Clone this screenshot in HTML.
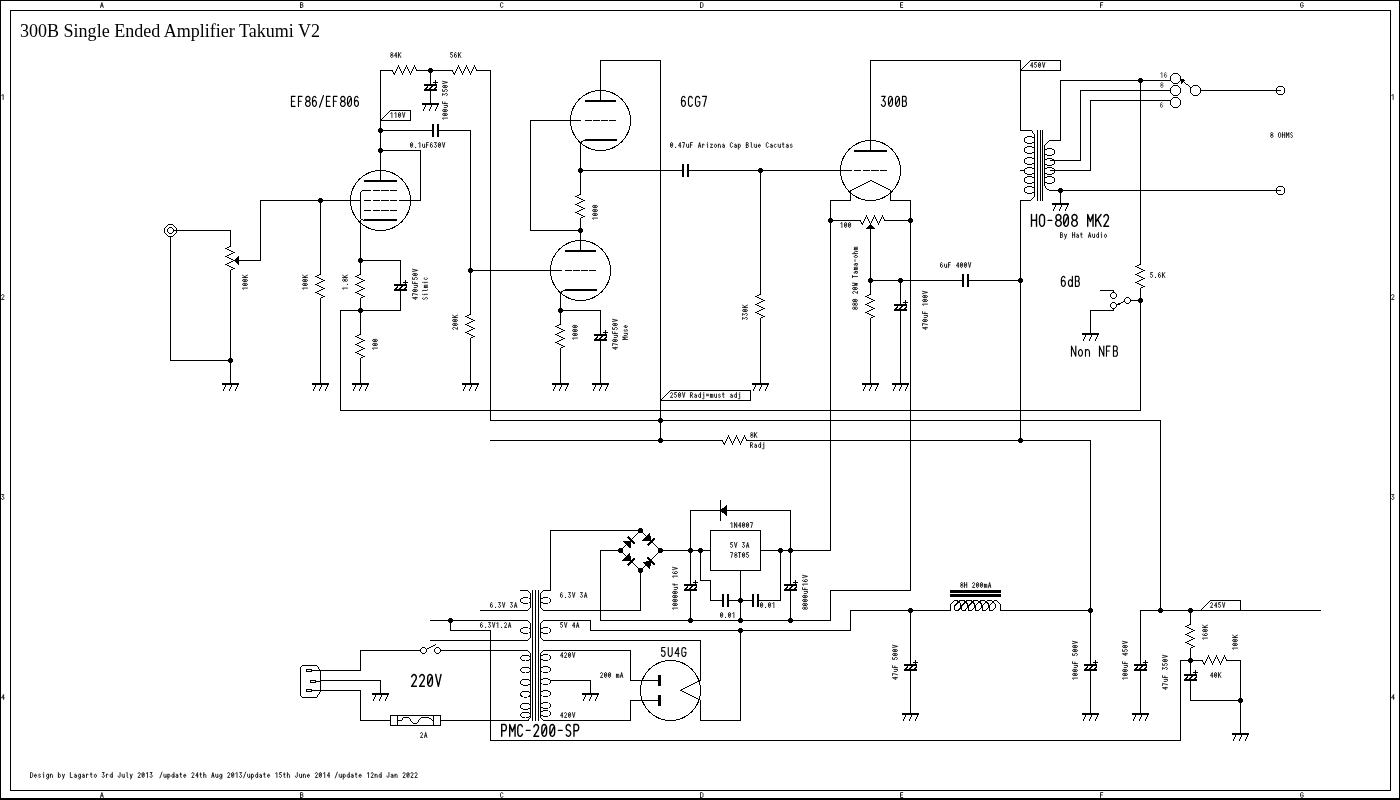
<!DOCTYPE html>
<html><head><meta charset="utf-8"><title>300B Single Ended Amplifier Takumi V2</title>
<style>
html,body{margin:0;padding:0;background:#fff;}
body{width:1400px;height:800px;overflow:hidden;font-family:"Liberation Mono",monospace;}
svg{display:block;}
svg *{vector-effect:none;}
.g{fill:none;stroke:#000;stroke-linecap:butt;stroke-linejoin:miter;}
.g *{shape-rendering:crispEdges;}
.t{fill:#000;stroke:none;font-family:"Liberation Serif",serif;white-space:pre;}
.v{fill:none;stroke:#000;stroke-linecap:round;stroke-linejoin:round;}
</style></head><body>
<svg width="1400" height="800" viewBox="0 0 1400 800">
<defs><filter id="gs" x="0" y="0" width="1" height="1" color-interpolation-filters="sRGB"><feOffset dx="0" dy="0"/></filter></defs>
<rect x="0" y="0" width="1400" height="800" fill="#fff"/>
<g class="g">
<rect x="0.5" y="0.25" width="1398.75" height="798.75" stroke-width="1.5"/>
<rect x="10.5" y="10.5" width="1380" height="780" stroke-width="1"/>
<polyline points="173.25,230.5 230.5,230.5 230.5,246.75" stroke-width="1"/>
<polyline points="230.5,270.25 230.5,383.75" stroke-width="1"/>
<rect x="222" y="383" width="17" height="2" fill="#000" stroke="none"/>
<polyline points="170.5,236.25 170.5,360.5 230.75,360.5" stroke-width="1"/>
<circle cx="230.5" cy="360.5" r="2.6" fill="#000" stroke="none"/>
<polygon points="234,260.5 238.9,256 238.9,265" fill="#000" stroke="none"/>
<polyline points="239.25,260.5 260.5,260.5 260.5,200.5 360.75,200.5" stroke-width="1"/>
<circle cx="320.5" cy="200.5" r="2.6" fill="#000" stroke="none"/>
<polyline points="320.5,200.25 320.5,274.75" stroke-width="1"/>
<polyline points="320.5,298.25 320.5,383.75" stroke-width="1"/>
<rect x="312" y="383" width="17" height="2" fill="#000" stroke="none"/>
<circle cx="380.5" cy="200.5" r="30" stroke-width="1"/>
<rect x="364" y="180" width="33" height="2" fill="#000" stroke="none"/>
<rect x="364" y="219" width="33" height="2" fill="#000" stroke="none"/>
<line x1="364" y1="190.5" x2="397" y2="190.5" stroke-width="1" stroke-dasharray="7.3 1.4"/>
<line x1="364" y1="200.5" x2="397" y2="200.5" stroke-width="1" stroke-dasharray="7.3 1.4"/>
<line x1="364" y1="210.5" x2="397" y2="210.5" stroke-width="1" stroke-dasharray="7.3 1.4"/>
<polyline points="364.75,190.5 362.25,190.5" stroke-width="1"/>
<polyline points="360.5,192.25 360.5,218.75" stroke-width="1"/>
<polyline points="360.5,220.25 360.5,223.75" stroke-width="1"/>
<polyline points="399.25,200.5 420.5,200.5 420.5,150.5 380.25,150.5" stroke-width="1"/>
<polyline points="380.5,180.75 380.5,70.5 392.75,70.5" stroke-width="1"/>
<circle cx="380.5" cy="130.5" r="2.6" fill="#000" stroke="none"/>
<circle cx="380.5" cy="150.5" r="2.6" fill="#000" stroke="none"/>
<polyline points="416.25,70.5 452.75,70.5" stroke-width="1"/>
<circle cx="430.5" cy="70.5" r="2.6" fill="#000" stroke="none"/>
<polyline points="476.25,70.5 490.5,70.5 490.5,420.5 1160.5,420.5 1160.5,610.75" stroke-width="1"/>
<polyline points="430.5,70.25 430.5,85.75" stroke-width="1"/>
<rect x="424" y="84" width="13" height="2" fill="#000" stroke="none"/>
<rect x="424" y="89" width="13" height="2" fill="#000" stroke="none"/>
<line x1="425.2" y1="89.3" x2="428.1" y2="85.8" stroke-width="1.4"/>
<line x1="429.7" y1="89.3" x2="432.6" y2="85.8" stroke-width="1.4"/>
<line x1="434.2" y1="89.3" x2="437.1" y2="85.8" stroke-width="1.4"/>
<line x1="433" y1="82.3" x2="438" y2="82.3" stroke-width="1"/>
<line x1="435.5" y1="80" x2="435.5" y2="84.5" stroke-width="1"/>
<polyline points="430.5,90.25 430.5,103.75" stroke-width="1"/>
<rect x="422" y="103" width="17" height="2" fill="#000" stroke="none"/>
<polyline points="390,110.5 410.5,110.5 410.5,120.5 380.5,120.5" stroke-width="1"/>
<polyline points="380.25,130.5 432.75,130.5" stroke-width="1"/>
<rect x="432" y="124" width="2" height="13" fill="#000" stroke="none"/>
<rect x="437" y="124" width="2" height="13" fill="#000" stroke="none"/>
<polyline points="438.25,130.5 470.5,130.5 470.5,314.75" stroke-width="1"/>
<polyline points="470.5,338.25 470.5,383.75" stroke-width="1"/>
<rect x="462" y="383" width="17" height="2" fill="#000" stroke="none"/>
<circle cx="470.5" cy="270.5" r="2.6" fill="#000" stroke="none"/>
<polyline points="470.25,270.5 561.75,270.5" stroke-width="1"/>
<polyline points="360.5,222.25 360.5,274.75" stroke-width="1"/>
<circle cx="360.5" cy="260.5" r="2.6" fill="#000" stroke="none"/>
<polyline points="360.5,298.25 360.5,334.75" stroke-width="1"/>
<circle cx="360.5" cy="310.5" r="2.6" fill="#000" stroke="none"/>
<polyline points="360.5,358.25 360.5,383.75" stroke-width="1"/>
<rect x="352" y="383" width="17" height="2" fill="#000" stroke="none"/>
<polyline points="360.25,260.5 400.5,260.5 400.5,285.75" stroke-width="1"/>
<rect x="394" y="284" width="13" height="2" fill="#000" stroke="none"/>
<rect x="394" y="289" width="13" height="2" fill="#000" stroke="none"/>
<line x1="395.2" y1="289.3" x2="398.1" y2="285.8" stroke-width="1.4"/>
<line x1="399.7" y1="289.3" x2="402.6" y2="285.8" stroke-width="1.4"/>
<line x1="404.2" y1="289.3" x2="407.1" y2="285.8" stroke-width="1.4"/>
<line x1="403" y1="282.3" x2="408" y2="282.3" stroke-width="1"/>
<line x1="405.5" y1="280" x2="405.5" y2="284.5" stroke-width="1"/>
<polyline points="400.5,290.25 400.5,310.5 340.5,310.5 340.5,410.5 1140.5,410.5 1140.5,288.25" stroke-width="1"/>
<circle cx="600.5" cy="120.5" r="30" stroke-width="1"/>
<rect x="585" y="100" width="31" height="2" fill="#000" stroke="none"/>
<rect x="585" y="139" width="32" height="2" fill="#000" stroke="none"/>
<line x1="585" y1="120.5" x2="616" y2="120.5" stroke-width="1" stroke-dasharray="6.6 1.5"/>
<path d="M585.5,140 Q581,140.5 580.5,145" stroke-width="1"/>
<polyline points="600.5,100.75 600.5,60.5 660.5,60.5 660.5,440.75" stroke-width="1"/>
<polyline points="580.75,120.5 530.5,120.5 530.5,230.5 580.75,230.5" stroke-width="1"/>
<circle cx="580.5" cy="230.5" r="2.6" fill="#000" stroke="none"/>
<polyline points="580.5,145.25 580.5,194.75" stroke-width="1"/>
<circle cx="580.5" cy="170.5" r="2.6" fill="#000" stroke="none"/>
<polyline points="580.5,218.25 580.5,250.75" stroke-width="1"/>
<circle cx="580.5" cy="270.5" r="30" stroke-width="1"/>
<rect x="565" y="250" width="31" height="2" fill="#000" stroke="none"/>
<rect x="565" y="289" width="32" height="2" fill="#000" stroke="none"/>
<line x1="565" y1="270.5" x2="596" y2="270.5" stroke-width="1" stroke-dasharray="6.6 1.5"/>
<path d="M565.5,290 Q561,290.5 560.5,295" stroke-width="1"/>
<polyline points="560.5,295.25 560.5,324.75" stroke-width="1"/>
<circle cx="560.5" cy="310.5" r="2.6" fill="#000" stroke="none"/>
<polyline points="560.5,348.25 560.5,383.75" stroke-width="1"/>
<rect x="552" y="383" width="17" height="2" fill="#000" stroke="none"/>
<polyline points="560.25,310.5 600.5,310.5 600.5,335.75" stroke-width="1"/>
<rect x="594" y="334" width="13" height="2" fill="#000" stroke="none"/>
<rect x="594" y="339" width="13" height="2" fill="#000" stroke="none"/>
<line x1="595.2" y1="339.3" x2="598.1" y2="335.8" stroke-width="1.4"/>
<line x1="599.7" y1="339.3" x2="602.6" y2="335.8" stroke-width="1.4"/>
<line x1="604.2" y1="339.3" x2="607.1" y2="335.8" stroke-width="1.4"/>
<line x1="603" y1="332.3" x2="608" y2="332.3" stroke-width="1"/>
<line x1="605.5" y1="330" x2="605.5" y2="334.5" stroke-width="1"/>
<polyline points="600.5,340.25 600.5,383.75" stroke-width="1"/>
<rect x="592" y="383" width="17" height="2" fill="#000" stroke="none"/>
<polyline points="580.25,170.5 682.75,170.5" stroke-width="1"/>
<rect x="682" y="164" width="2" height="13" fill="#000" stroke="none"/>
<rect x="687" y="164" width="2" height="13" fill="#000" stroke="none"/>
<polyline points="688.25,170.5 851.75,170.5" stroke-width="1"/>
<circle cx="760.5" cy="170.5" r="2.6" fill="#000" stroke="none"/>
<polyline points="760.5,170.25 760.5,294.75" stroke-width="1"/>
<polyline points="760.5,318.25 760.5,383.75" stroke-width="1"/>
<rect x="752" y="383" width="17" height="2" fill="#000" stroke="none"/>
<circle cx="870.5" cy="170.5" r="30" stroke-width="1"/>
<rect x="854" y="150" width="33" height="2" fill="#000" stroke="none"/>
<line x1="854" y1="170.5" x2="887" y2="170.5" stroke-width="1" stroke-dasharray="7.3 1.4"/>
<polyline points="870.5,150.75 870.5,60.5 1020.5,60.5 1020.5,130.75" stroke-width="1"/>
<polyline points="1030,60.5 1060.5,60.5 1060.5,70.5 1020.5,70.5" stroke-width="1"/>
<polyline points="850.75,200.5 830.5,200.5 830.5,550.75" stroke-width="1"/>
<polyline points="890.25,200.5 910.5,200.5 910.5,590.5 830.5,590.5 830.5,620.75" stroke-width="1"/>
<circle cx="830.5" cy="220.5" r="2.6" fill="#000" stroke="none"/>
<circle cx="910.5" cy="220.5" r="2.6" fill="#000" stroke="none"/>
<polyline points="830.25,220.5 860.75,220.5" stroke-width="1"/>
<polyline points="884.25,220.5 910.75,220.5" stroke-width="1"/>
<polygon points="870.5,223.8 866,229 875,229" fill="#000" stroke="none"/>
<polyline points="870.5,228.25 870.5,294.75" stroke-width="1"/>
<circle cx="870.5" cy="280.5" r="2.6" fill="#000" stroke="none"/>
<polyline points="870.5,318.25 870.5,383.75" stroke-width="1"/>
<rect x="862" y="383" width="17" height="2" fill="#000" stroke="none"/>
<polyline points="870.25,280.5 962.75,280.5" stroke-width="1"/>
<circle cx="900.5" cy="280.5" r="2.6" fill="#000" stroke="none"/>
<rect x="962" y="274" width="2" height="13" fill="#000" stroke="none"/>
<rect x="967" y="274" width="2" height="13" fill="#000" stroke="none"/>
<polyline points="968.25,280.5 1020.75,280.5" stroke-width="1"/>
<circle cx="1020.5" cy="280.5" r="2.6" fill="#000" stroke="none"/>
<polyline points="900.5,280.25 900.5,305.75" stroke-width="1"/>
<rect x="894" y="304" width="13" height="2" fill="#000" stroke="none"/>
<rect x="894" y="309" width="13" height="2" fill="#000" stroke="none"/>
<line x1="895.2" y1="309.3" x2="898.1" y2="305.8" stroke-width="1.4"/>
<line x1="899.7" y1="309.3" x2="902.6" y2="305.8" stroke-width="1.4"/>
<line x1="904.2" y1="309.3" x2="907.1" y2="305.8" stroke-width="1.4"/>
<line x1="903" y1="302.3" x2="908" y2="302.3" stroke-width="1"/>
<line x1="905.5" y1="300" x2="905.5" y2="304.5" stroke-width="1"/>
<polyline points="900.5,310.25 900.5,383.75" stroke-width="1"/>
<rect x="892" y="383" width="17" height="2" fill="#000" stroke="none"/>
<polyline points="1020.25,130.5 1031.75,130.5" stroke-width="1"/>
<polyline points="1034.5,134.25 1034.5,196.75" stroke-width="1"/>
<polyline points="1030.75,200.5 1020.5,200.5 1020.5,440.75" stroke-width="1"/>
<ellipse cx="1029.5" cy="140" rx="5" ry="3.5" stroke-width="1"/>
<ellipse cx="1029.5" cy="150" rx="5" ry="3.5" stroke-width="1"/>
<ellipse cx="1029.5" cy="161" rx="5" ry="3.5" stroke-width="1"/>
<ellipse cx="1029.5" cy="171" rx="5" ry="3.5" stroke-width="1"/>
<ellipse cx="1029.5" cy="180" rx="5" ry="3.5" stroke-width="1"/>
<ellipse cx="1029.5" cy="190" rx="5" ry="3.5" stroke-width="1"/>
<polyline points="1020.25,170.5 1024.75,170.5" stroke-width="1"/>
<line x1="1037.5" y1="130" x2="1037.5" y2="201" stroke-width="1"/>
<line x1="1040.5" y1="130" x2="1040.5" y2="201" stroke-width="1"/>
<line x1="1042.5" y1="130" x2="1042.5" y2="201" stroke-width="1"/>
<polyline points="1060.5,80.25 1060.5,140.5 1049.25,140.5" stroke-width="1"/>
<polyline points="1044.5,145.25 1044.5,185.75" stroke-width="1"/>
<polyline points="1049.25,190.5 1060.75,190.5" stroke-width="1"/>
<ellipse cx="1049.5" cy="152" rx="5" ry="3.5" stroke-width="1"/>
<ellipse cx="1049.5" cy="162" rx="5" ry="3.5" stroke-width="1"/>
<ellipse cx="1049.5" cy="171" rx="5" ry="3.5" stroke-width="1"/>
<ellipse cx="1049.5" cy="180" rx="5" ry="3.5" stroke-width="1"/>
<polyline points="1060.25,80.5 1170.75,80.5" stroke-width="1"/>
<circle cx="1140.5" cy="80.5" r="2.6" fill="#000" stroke="none"/>
<polyline points="1050.25,160.5 1080.5,160.5 1080.5,90.5 1170.75,90.5" stroke-width="1"/>
<polyline points="1050.25,170.5 1090.5,170.5 1090.5,100.5 1170.75,100.5" stroke-width="1"/>
<polyline points="1060.25,190.5 1280.75,190.5" stroke-width="1"/>
<circle cx="1060.5" cy="190.5" r="2.6" fill="#000" stroke="none"/>
<polyline points="1060.5,190.25 1060.5,203.75" stroke-width="1"/>
<rect x="1052" y="203" width="17" height="2" fill="#000" stroke="none"/>
<polyline points="1200.25,90.5 1280.75,90.5" stroke-width="1"/>
<polyline points="1140.5,80.25 1140.5,264.75" stroke-width="1"/>
<circle cx="1140.5" cy="300.5" r="2.6" fill="#000" stroke="none"/>
<polyline points="1130.25,300.5 1140.75,300.5" stroke-width="1"/>
<polyline points="1100.25,290.5 1113.5,290.5 1113.5,292.75" stroke-width="1"/>
<polyline points="1113.5,308.25 1113.5,310.5 1090.5,310.5 1090.5,333.75" stroke-width="1"/>
<rect x="1082" y="333" width="17" height="2" fill="#000" stroke="none"/>
<circle cx="660.5" cy="420.5" r="2.6" fill="#000" stroke="none"/>
<circle cx="660.5" cy="440.5" r="2.6" fill="#000" stroke="none"/>
<polyline points="490.25,440.5 722.75,440.5" stroke-width="1"/>
<polyline points="746.25,440.5 1090.5,440.5 1090.5,610.75" stroke-width="1"/>
<circle cx="1020.5" cy="440.5" r="2.6" fill="#000" stroke="none"/>
<polyline points="670,390.5 750.5,390.5 750.5,400.5 660.5,400.5" stroke-width="1"/>
<polyline points="302.25,665.5 316.75,665.5" stroke-width="1"/>
<polyline points="320.5,670.25 320.5,691.75" stroke-width="1"/>
<polyline points="316.75,697.5 302.25,697.5" stroke-width="1"/>
<polyline points="300.5,695.75 300.5,667.25" stroke-width="1"/>
<rect x="306.5" y="669.5" width="5" height="2" stroke-width="1"/>
<rect x="310.5" y="680.5" width="5" height="2" stroke-width="1"/>
<rect x="306.5" y="689.5" width="5" height="2" stroke-width="1"/>
<polyline points="312.25,670.5 320.75,670.5" stroke-width="1"/>
<polyline points="312.25,690.5 320.75,690.5" stroke-width="1"/>
<polyline points="316.25,681.5 320.75,681.5" stroke-width="1"/>
<polyline points="320.25,670.5 360.5,670.5 360.5,650.5 420.75,650.5" stroke-width="1"/>
<polyline points="440.25,650.5 527.75,650.5" stroke-width="1"/>
<polyline points="320.25,680.5 380.5,680.5 380.5,693.75" stroke-width="1"/>
<rect x="372" y="693" width="17" height="2" fill="#000" stroke="none"/>
<polyline points="320.25,690.5 360.5,690.5 360.5,720.5 390.75,720.5" stroke-width="1"/>
<rect x="390.5" y="715.5" width="50" height="10" stroke-width="1"/>
<line x1="397.5" y1="715.5" x2="397.5" y2="725.5" stroke-width="1"/>
<line x1="433.5" y1="715.5" x2="433.5" y2="725.5" stroke-width="1"/>
<polyline points="440.25,720.5 528.75,720.5" stroke-width="1"/>
<line x1="532.5" y1="590" x2="532.5" y2="721" stroke-width="1"/>
<line x1="535.5" y1="590" x2="535.5" y2="721" stroke-width="1"/>
<line x1="538.5" y1="590" x2="538.5" y2="721" stroke-width="1"/>
<polyline points="520.25,590.5 527.75,590.5" stroke-width="1"/>
<polyline points="530.5,593.25 530.5,607.75" stroke-width="1"/>
<polyline points="527.75,610.5 480.25,610.5" stroke-width="1"/>
<ellipse cx="525.5" cy="600.5" rx="5" ry="3" stroke-width="1"/>
<polyline points="430.25,620.5 527.75,620.5" stroke-width="1"/>
<polyline points="530.5,623.25 530.5,637.75" stroke-width="1"/>
<polyline points="527.75,640.5 430.25,640.5" stroke-width="1"/>
<ellipse cx="525.5" cy="630.5" rx="5" ry="3" stroke-width="1"/>
<polyline points="527.5,650.5 527.5,650.5" stroke-width="1"/>
<polyline points="530.5,653.25 530.5,717.75" stroke-width="1"/>
<polyline points="527.5,720.5 527.5,720.5" stroke-width="1"/>
<ellipse cx="525.5" cy="658" rx="5" ry="3" stroke-width="1"/>
<ellipse cx="525.5" cy="670" rx="5" ry="3" stroke-width="1"/>
<ellipse cx="525.5" cy="682.3" rx="5" ry="3" stroke-width="1"/>
<ellipse cx="525.5" cy="694.2" rx="5" ry="3" stroke-width="1"/>
<ellipse cx="525.5" cy="706.3" rx="5" ry="3" stroke-width="1"/>
<ellipse cx="525.5" cy="715" rx="5" ry="3" stroke-width="1"/>
<polyline points="550.75,590.5 543.25,590.5" stroke-width="1"/>
<polyline points="540.5,593.25 540.5,607.75" stroke-width="1"/>
<polyline points="543.25,610.5 640.75,610.5" stroke-width="1"/>
<ellipse cx="545.5" cy="600.5" rx="5" ry="3" stroke-width="1"/>
<polyline points="590.75,620.5 543.25,620.5" stroke-width="1"/>
<polyline points="540.5,623.25 540.5,637.75" stroke-width="1"/>
<polyline points="543.25,640.5 700.75,640.5" stroke-width="1"/>
<ellipse cx="545.5" cy="630.5" rx="5" ry="3" stroke-width="1"/>
<polyline points="630.75,650.5 543.25,650.5" stroke-width="1"/>
<polyline points="540.5,653.25 540.5,717.75" stroke-width="1"/>
<polyline points="543.25,720.5 630.75,720.5" stroke-width="1"/>
<ellipse cx="545.5" cy="657.5" rx="5" ry="3" stroke-width="1"/>
<ellipse cx="545.5" cy="669.6" rx="5" ry="3" stroke-width="1"/>
<ellipse cx="545.5" cy="681.6" rx="5" ry="3" stroke-width="1"/>
<ellipse cx="545.5" cy="693.6" rx="5" ry="3" stroke-width="1"/>
<ellipse cx="545.5" cy="705.5" rx="5" ry="3" stroke-width="1"/>
<ellipse cx="545.5" cy="713.5" rx="5" ry="3" stroke-width="1"/>
<circle cx="450.5" cy="620.5" r="2.6" fill="#000" stroke="none"/>
<polyline points="450.5,620.25 450.5,630.5 490.5,630.5 490.5,740.5 1180.5,740.5 1180.5,660.5 1190.75,660.5" stroke-width="1"/>
<polyline points="550.25,680.5 590.5,680.5 590.5,693.75" stroke-width="1"/>
<rect x="582" y="693" width="17" height="2" fill="#000" stroke="none"/>
<polyline points="550.5,590.75 550.5,530.5 640.75,530.5" stroke-width="1"/>
<polyline points="640.5,610.75 640.5,570.25" stroke-width="1"/>
<polyline points="590.5,620.25 590.5,630.5 850.5,630.5 850.5,610.5 950.75,610.5" stroke-width="1"/>
<polyline points="700.5,640.25 700.5,680.75" stroke-width="1"/>
<polyline points="630.5,650.25 630.5,680.5 659.75,680.5" stroke-width="1"/>
<polyline points="630.5,720.75 630.5,700.5 659.75,700.5" stroke-width="1"/>
<circle cx="670.5" cy="690.5" r="30" stroke-width="1"/>
<rect x="658" y="675" width="3" height="11" fill="#000" stroke="none"/>
<rect x="658" y="695" width="3" height="11" fill="#000" stroke="none"/>
<polyline points="700.5,700.25 700.5,720.5 740.5,720.5 740.5,630.25" stroke-width="1"/>
<polyline points="740.5,620.75 740.5,570.25" stroke-width="1"/>
<circle cx="740.5" cy="630.5" r="2.6" fill="#000" stroke="none"/>
<circle cx="740.5" cy="620.5" r="2.6" fill="#000" stroke="none"/>
<circle cx="740.5" cy="600.5" r="2.6" fill="#000" stroke="none"/>
<circle cx="640.5" cy="530.5" r="2.6" fill="#000" stroke="none"/>
<circle cx="620.5" cy="550.5" r="2.6" fill="#000" stroke="none"/>
<circle cx="660.5" cy="550.5" r="2.6" fill="#000" stroke="none"/>
<circle cx="640.5" cy="570.5" r="2.6" fill="#000" stroke="none"/>
<line x1="627.86" y1="536.86" x2="634.94" y2="543.94" stroke-width="2.2"/>
<polygon points="631.4,540.4 622.63,541.39 630.41,549.17" fill="#000" stroke="none"/>
<line x1="654.64" y1="538.06" x2="647.56" y2="545.14" stroke-width="2.2"/>
<polygon points="651.1,541.6 650.11,532.83 642.33,540.61" fill="#000" stroke="none"/>
<line x1="634.64" y1="558.06" x2="627.56" y2="565.14" stroke-width="2.2"/>
<polygon points="631.1,561.6 630.11,552.83 622.33,560.61" fill="#000" stroke="none"/>
<line x1="647.56" y1="557.36" x2="654.64" y2="564.44" stroke-width="2.2"/>
<polygon points="651.1,560.9 642.33,561.89 650.11,569.67" fill="#000" stroke="none"/>
<polyline points="620.75,550.5 600.5,550.5 600.5,620.5 830.75,620.5" stroke-width="1"/>
<polyline points="660.25,550.5 710.75,550.5" stroke-width="1"/>
<circle cx="690.5" cy="550.5" r="2.6" fill="#000" stroke="none"/>
<circle cx="700.5" cy="550.5" r="2.6" fill="#000" stroke="none"/>
<rect x="710.5" y="530.5" width="50" height="40" stroke-width="1"/>
<polyline points="760.25,550.5 830.75,550.5" stroke-width="1"/>
<circle cx="780.5" cy="550.5" r="2.6" fill="#000" stroke="none"/>
<circle cx="790.5" cy="550.5" r="2.6" fill="#000" stroke="none"/>
<polyline points="690.5,550.75 690.5,510.5 790.5,510.5 790.5,550.75" stroke-width="1"/>
<line x1="720.5" y1="500" x2="720.5" y2="521" stroke-width="1"/>
<polygon points="720.3,510.5 726.5,504.8 726.5,516.2" fill="#000" stroke="none"/>
<polyline points="690.5,550.25 690.5,585.75" stroke-width="1"/>
<rect x="684" y="584" width="13" height="2" fill="#000" stroke="none"/>
<rect x="684" y="589" width="13" height="2" fill="#000" stroke="none"/>
<line x1="685.2" y1="589.3" x2="688.1" y2="585.8" stroke-width="1.4"/>
<line x1="689.7" y1="589.3" x2="692.6" y2="585.8" stroke-width="1.4"/>
<line x1="694.2" y1="589.3" x2="697.1" y2="585.8" stroke-width="1.4"/>
<line x1="693" y1="582.3" x2="698" y2="582.3" stroke-width="1"/>
<line x1="695.5" y1="580" x2="695.5" y2="584.5" stroke-width="1"/>
<polyline points="690.5,590.25 690.5,620.75" stroke-width="1"/>
<circle cx="690.5" cy="620.5" r="2.6" fill="#000" stroke="none"/>
<polyline points="790.5,550.25 790.5,585.75" stroke-width="1"/>
<rect x="784" y="584" width="13" height="2" fill="#000" stroke="none"/>
<rect x="784" y="589" width="13" height="2" fill="#000" stroke="none"/>
<line x1="785.2" y1="589.3" x2="788.1" y2="585.8" stroke-width="1.4"/>
<line x1="789.7" y1="589.3" x2="792.6" y2="585.8" stroke-width="1.4"/>
<line x1="794.2" y1="589.3" x2="797.1" y2="585.8" stroke-width="1.4"/>
<line x1="793" y1="582.3" x2="798" y2="582.3" stroke-width="1"/>
<line x1="795.5" y1="580" x2="795.5" y2="584.5" stroke-width="1"/>
<polyline points="790.5,590.25 790.5,620.75" stroke-width="1"/>
<circle cx="790.5" cy="620.5" r="2.6" fill="#000" stroke="none"/>
<polyline points="700.5,550.25 700.5,580.5 710.5,580.5 710.5,600.5 722.75,600.5" stroke-width="1"/>
<rect x="722" y="594" width="2" height="13" fill="#000" stroke="none"/>
<rect x="727" y="594" width="2" height="13" fill="#000" stroke="none"/>
<polyline points="728.25,600.5 752.75,600.5" stroke-width="1"/>
<rect x="752" y="594" width="2" height="13" fill="#000" stroke="none"/>
<rect x="757" y="594" width="2" height="13" fill="#000" stroke="none"/>
<polyline points="758.25,600.5 780.5,600.5 780.5,550.25" stroke-width="1"/>
<circle cx="910.5" cy="610.5" r="2.6" fill="#000" stroke="none"/>
<rect x="950" y="590" width="51" height="3" fill="#000" stroke="none"/>
<rect x="950" y="594" width="51" height="3" fill="#000" stroke="none"/>
<polyline points="950.5,610.5 950.5,604.5 954.5,600.5 954.5,600.5 957,600.5 960.8,604 960.8,607.5 958,610.5 955.3,610.5 954.5,609.3 954.5,606 960.2,600.5 961.4,600.5 963.9,600.5 967.7,604 967.7,607.5 964.9,610.5 962.2,610.5 961.4,609.3 961.4,606 967.1,600.5 968.3,600.5 970.8,600.5 974.6,604 974.6,607.5 971.8,610.5 969.1,610.5 968.3,609.3 968.3,606 974,600.5 975.2,600.5 977.7,600.5 981.5,604 981.5,607.5 978.7,610.5 976,610.5 975.2,609.3 975.2,606 980.9,600.5 982.1,600.5 984.6,600.5 988.4,604 988.4,607.5 985.6,610.5 982.9,610.5 982.1,609.3 982.1,606 987.8,600.5 989,600.5 991.5,600.5 995.3,604 995.3,607.5 992.5,610.5 989.8,610.5 989,609.3 989,606 994.7,600.5 996.5,600.5 1000.5,604.5 1000.5,610.5" stroke-width="1" stroke-linejoin="round"/>
<polyline points="1000.25,610.5 1090.75,610.5" stroke-width="1"/>
<circle cx="1090.5" cy="610.5" r="2.6" fill="#000" stroke="none"/>
<polyline points="910.5,610.25 910.5,665.75" stroke-width="1"/>
<rect x="904" y="664" width="13" height="2" fill="#000" stroke="none"/>
<rect x="904" y="669" width="13" height="2" fill="#000" stroke="none"/>
<line x1="905.2" y1="669.3" x2="908.1" y2="665.8" stroke-width="1.4"/>
<line x1="909.7" y1="669.3" x2="912.6" y2="665.8" stroke-width="1.4"/>
<line x1="914.2" y1="669.3" x2="917.1" y2="665.8" stroke-width="1.4"/>
<line x1="913" y1="662.3" x2="918" y2="662.3" stroke-width="1"/>
<line x1="915.5" y1="660" x2="915.5" y2="664.5" stroke-width="1"/>
<polyline points="910.5,670.25 910.5,713.75" stroke-width="1"/>
<rect x="902" y="713" width="17" height="2" fill="#000" stroke="none"/>
<polyline points="1090.5,610.25 1090.5,665.75" stroke-width="1"/>
<rect x="1084" y="664" width="13" height="2" fill="#000" stroke="none"/>
<rect x="1084" y="669" width="13" height="2" fill="#000" stroke="none"/>
<line x1="1085.2" y1="669.3" x2="1088.1" y2="665.8" stroke-width="1.4"/>
<line x1="1089.7" y1="669.3" x2="1092.6" y2="665.8" stroke-width="1.4"/>
<line x1="1094.2" y1="669.3" x2="1097.1" y2="665.8" stroke-width="1.4"/>
<line x1="1093" y1="662.3" x2="1098" y2="662.3" stroke-width="1"/>
<line x1="1095.5" y1="660" x2="1095.5" y2="664.5" stroke-width="1"/>
<polyline points="1090.5,670.25 1090.5,713.75" stroke-width="1"/>
<rect x="1082" y="713" width="17" height="2" fill="#000" stroke="none"/>
<polyline points="1140.5,665.75 1140.5,610.5 1320.75,610.5" stroke-width="1"/>
<rect x="1134" y="664" width="13" height="2" fill="#000" stroke="none"/>
<rect x="1134" y="669" width="13" height="2" fill="#000" stroke="none"/>
<line x1="1135.2" y1="669.3" x2="1138.1" y2="665.8" stroke-width="1.4"/>
<line x1="1139.7" y1="669.3" x2="1142.6" y2="665.8" stroke-width="1.4"/>
<line x1="1144.2" y1="669.3" x2="1147.1" y2="665.8" stroke-width="1.4"/>
<line x1="1143" y1="662.3" x2="1148" y2="662.3" stroke-width="1"/>
<line x1="1145.5" y1="660" x2="1145.5" y2="664.5" stroke-width="1"/>
<polyline points="1140.5,670.25 1140.5,713.75" stroke-width="1"/>
<rect x="1132" y="713" width="17" height="2" fill="#000" stroke="none"/>
<circle cx="1160.5" cy="610.5" r="2.6" fill="#000" stroke="none"/>
<circle cx="1190.5" cy="610.5" r="2.6" fill="#000" stroke="none"/>
<polyline points="1210,600.5 1240.5,600.5 1240.5,610.5 1200.5,610.5" stroke-width="1"/>
<polyline points="1190.5,610.25 1190.5,624.75" stroke-width="1"/>
<polyline points="1190.5,648.25 1190.5,675.75" stroke-width="1"/>
<circle cx="1190.5" cy="660.5" r="2.6" fill="#000" stroke="none"/>
<rect x="1184" y="674" width="13" height="2" fill="#000" stroke="none"/>
<rect x="1184" y="679" width="13" height="2" fill="#000" stroke="none"/>
<line x1="1185.2" y1="679.3" x2="1188.1" y2="675.8" stroke-width="1.4"/>
<line x1="1189.7" y1="679.3" x2="1192.6" y2="675.8" stroke-width="1.4"/>
<line x1="1194.2" y1="679.3" x2="1197.1" y2="675.8" stroke-width="1.4"/>
<line x1="1193" y1="672.3" x2="1198" y2="672.3" stroke-width="1"/>
<line x1="1195.5" y1="670" x2="1195.5" y2="674.5" stroke-width="1"/>
<polyline points="1190.5,680.25 1190.5,700.5 1240.75,700.5" stroke-width="1"/>
<polyline points="1190.25,660.5 1202.75,660.5" stroke-width="1"/>
<polyline points="1226.25,660.5 1240.5,660.5 1240.5,733.75" stroke-width="1"/>
<circle cx="1240.5" cy="700.5" r="2.6" fill="#000" stroke="none"/>
<rect x="1232" y="733" width="17" height="2" fill="#000" stroke="none"/>
<path d="M164,228h1v5h-1zM165,227h1v1h-1zM165,233h1v1h-1zM166,226h1v1h-1zM166,234h1v1h-1zM167,225h1v1h-1zM167,229h1v3h-1zM167,235h1v1h-1zM168,228h1v1h-1zM168,232h1v1h-1zM168,224h5v1h-5zM168,236h5v1h-5zM169,227h3v1h-3zM169,233h3v1h-3zM172,228h1v1h-1zM172,232h1v1h-1zM173,225h1v1h-1zM173,229h1v3h-1zM173,235h1v1h-1zM174,226h1v1h-1zM174,234h1v1h-1zM175,227h1v1h-1zM175,233h1v1h-1zM176,228h1v5h-1zM223,389h1v2h-1zM224,387h1v2h-1zM225,385h1v2h-1zM225,248h2v1h-2zM225,256h2v1h-2zM225,264h2v1h-2zM227,247h2v1h-2zM227,249h2v1h-2zM227,255h2v1h-2zM227,257h2v1h-2zM227,263h2v1h-2zM227,265h2v1h-2zM229,389h1v2h-1zM229,246h2v1h-2zM229,250h2v1h-2zM229,254h2v1h-2zM229,258h2v1h-2zM229,262h2v1h-2zM229,266h2v1h-2zM230,270h1v1h-1zM230,387h1v2h-1zM231,385h1v2h-1zM231,251h2v1h-2zM231,253h2v1h-2zM231,259h2v1h-2zM231,261h2v1h-2zM231,267h2v1h-2zM231,269h2v1h-2zM233,252h2v1h-2zM233,260h2v1h-2zM233,268h2v1h-2zM235,389h1v2h-1zM236,387h1v2h-1zM237,385h1v2h-1zM300,667h1v1h-1zM300,695h1v1h-1zM301,666h1v1h-1zM301,696h1v1h-1zM302,665h1v1h-1zM302,697h1v1h-1zM313,389h1v2h-1zM314,387h1v2h-1zM315,385h1v2h-1zM315,276h2v1h-2zM315,284h2v1h-2zM315,292h2v1h-2zM316,665h1v1h-1zM316,697h1v1h-1zM317,666h1v1h-1zM317,695h1v2h-1zM317,275h2v1h-2zM317,277h2v1h-2zM317,283h2v1h-2zM317,285h2v1h-2zM317,291h2v1h-2zM317,293h2v1h-2zM318,667h1v2h-1zM318,694h1v1h-1zM319,389h1v2h-1zM319,669h1v1h-1zM319,692h1v2h-1zM319,274h2v1h-2zM319,278h2v1h-2zM319,282h2v1h-2zM319,286h2v1h-2zM319,290h2v1h-2zM319,294h2v1h-2zM320,298h1v1h-1zM320,387h1v2h-1zM320,670h1v1h-1zM320,691h1v1h-1zM321,385h1v2h-1zM321,279h2v1h-2zM321,281h2v1h-2zM321,287h2v1h-2zM321,289h2v1h-2zM321,295h2v1h-2zM321,297h2v1h-2zM323,280h2v1h-2zM323,288h2v1h-2zM323,296h2v1h-2zM325,389h1v2h-1zM326,387h1v2h-1zM327,385h1v2h-1zM353,389h1v2h-1zM354,387h1v2h-1zM355,385h1v2h-1zM355,276h2v1h-2zM355,284h2v1h-2zM355,292h2v1h-2zM355,336h2v1h-2zM355,344h2v1h-2zM355,352h2v1h-2zM357,275h2v1h-2zM357,277h2v1h-2zM357,283h2v1h-2zM357,285h2v1h-2zM357,291h2v1h-2zM357,293h2v1h-2zM357,335h2v1h-2zM357,337h2v1h-2zM357,343h2v1h-2zM357,345h2v1h-2zM357,351h2v1h-2zM357,353h2v1h-2zM359,389h1v2h-1zM359,274h2v1h-2zM359,278h2v1h-2zM359,282h2v1h-2zM359,286h2v1h-2zM359,290h2v1h-2zM359,294h2v1h-2zM359,334h2v1h-2zM359,338h2v1h-2zM359,342h2v1h-2zM359,346h2v1h-2zM359,350h2v1h-2zM359,354h2v1h-2zM360,192h1v1h-1zM360,218h1v1h-1zM360,298h1v1h-1zM360,358h1v1h-1zM360,387h1v2h-1zM361,191h1v1h-1zM361,385h1v2h-1zM361,219h2v1h-2zM361,279h2v1h-2zM361,281h2v1h-2zM361,287h2v1h-2zM361,289h2v1h-2zM361,295h2v1h-2zM361,297h2v1h-2zM361,339h2v1h-2zM361,341h2v1h-2zM361,347h2v1h-2zM361,349h2v1h-2zM361,355h2v1h-2zM361,357h2v1h-2zM362,190h1v1h-1zM363,220h1v1h-1zM363,280h2v1h-2zM363,288h2v1h-2zM363,296h2v1h-2zM363,340h2v1h-2zM363,348h2v1h-2zM363,356h2v1h-2zM365,389h1v2h-1zM366,387h1v2h-1zM367,385h1v2h-1zM373,699h1v2h-1zM374,697h1v2h-1zM375,695h1v2h-1zM379,699h1v2h-1zM380,120h1v1h-1zM380,697h1v2h-1zM381,119h1v1h-1zM381,695h1v2h-1zM382,118h1v1h-1zM383,117h1v1h-1zM384,116h1v1h-1zM385,115h1v1h-1zM385,699h1v2h-1zM386,114h1v1h-1zM386,697h1v2h-1zM387,113h1v1h-1zM387,695h1v2h-1zM388,112h1v1h-1zM389,111h1v1h-1zM390,110h1v1h-1zM392,70h1v2h-1zM393,72h1v1h-1zM393,73h2v1h-2zM394,74h1v1h-1zM395,71h1v2h-1zM396,69h1v2h-1zM397,67h1v2h-1zM397,720h5v1h-5zM398,65h1v2h-1zM399,67h1v2h-1zM400,69h1v2h-1zM401,71h1v2h-1zM402,73h1v2h-1zM402,718h1v2h-1zM403,71h1v2h-1zM403,717h6v1h-6zM404,69h1v2h-1zM405,67h1v2h-1zM406,65h1v2h-1zM407,67h1v2h-1zM408,69h1v2h-1zM409,71h1v2h-1zM409,718h1v1h-1zM410,73h1v2h-1zM410,719h1v2h-1zM411,71h1v2h-1zM411,721h1v1h-1zM412,69h1v2h-1zM412,722h1v1h-1zM413,67h1v2h-1zM413,723h4v1h-4zM414,65h1v2h-1zM415,67h1v2h-1zM416,69h1v2h-1zM417,722h1v1h-1zM418,720h1v2h-1zM419,719h1v1h-1zM420,649h1v3h-1zM420,718h1v1h-1zM421,648h1v1h-1zM421,652h1v1h-1zM421,717h8v1h-8zM422,647h3v1h-3zM422,653h3v1h-3zM423,109h1v2h-1zM424,107h1v2h-1zM425,105h1v2h-1zM425,648h1v1h-1zM425,652h1v1h-1zM426,649h1v3h-1zM427,648h2v1h-2zM429,109h1v2h-1zM429,647h2v1h-2zM429,718h2v1h-2zM430,107h1v2h-1zM431,105h1v2h-1zM431,719h1v1h-1zM431,646h2v1h-2zM432,720h2v1h-2zM433,645h2v1h-2zM434,649h1v3h-1zM435,109h1v2h-1zM435,644h1v1h-1zM435,648h1v1h-1zM435,652h1v1h-1zM436,107h1v2h-1zM436,647h3v1h-3zM436,653h3v1h-3zM437,105h1v2h-1zM439,648h1v1h-1zM439,652h1v1h-1zM440,649h1v3h-1zM452,70h1v2h-1zM453,72h1v1h-1zM453,73h2v1h-2zM454,74h1v1h-1zM455,71h1v2h-1zM456,69h1v2h-1zM457,67h1v2h-1zM458,65h1v2h-1zM459,67h1v2h-1zM460,69h1v2h-1zM461,71h1v2h-1zM462,73h1v2h-1zM463,71h1v2h-1zM463,389h1v2h-1zM464,69h1v2h-1zM464,387h1v2h-1zM465,67h1v2h-1zM465,385h1v2h-1zM465,316h2v1h-2zM465,324h2v1h-2zM465,332h2v1h-2zM466,65h1v2h-1zM467,67h1v2h-1zM467,315h2v1h-2zM467,317h2v1h-2zM467,323h2v1h-2zM467,325h2v1h-2zM467,331h2v1h-2zM467,333h2v1h-2zM468,69h1v2h-1zM469,71h1v2h-1zM469,389h1v2h-1zM469,314h2v1h-2zM469,318h2v1h-2zM469,322h2v1h-2zM469,326h2v1h-2zM469,330h2v1h-2zM469,334h2v1h-2zM470,73h1v2h-1zM470,338h1v1h-1zM470,387h1v2h-1zM471,71h1v2h-1zM471,385h1v2h-1zM471,319h2v1h-2zM471,321h2v1h-2zM471,327h2v1h-2zM471,329h2v1h-2zM471,335h2v1h-2zM471,337h2v1h-2zM472,69h1v2h-1zM473,67h1v2h-1zM473,320h2v1h-2zM473,328h2v1h-2zM473,336h2v1h-2zM474,65h1v2h-1zM475,67h1v2h-1zM475,389h1v2h-1zM476,69h1v2h-1zM476,387h1v2h-1zM477,385h1v2h-1zM527,590h1v1h-1zM527,610h1v1h-1zM527,620h1v1h-1zM527,640h1v1h-1zM527,650h1v1h-1zM527,720h1v1h-1zM528,591h1v1h-1zM528,609h1v1h-1zM528,621h1v1h-1zM528,639h1v1h-1zM528,651h1v1h-1zM528,719h1v1h-1zM529,592h1v1h-1zM529,608h1v1h-1zM529,622h1v1h-1zM529,638h1v1h-1zM529,652h1v1h-1zM529,718h1v1h-1zM530,593h1v1h-1zM530,607h1v1h-1zM530,623h1v1h-1zM530,637h1v1h-1zM530,653h1v1h-1zM530,717h1v1h-1zM540,593h1v1h-1zM540,607h1v1h-1zM540,623h1v1h-1zM540,637h1v1h-1zM540,653h1v1h-1zM540,717h1v1h-1zM541,592h1v1h-1zM541,608h1v1h-1zM541,622h1v1h-1zM541,638h1v1h-1zM541,652h1v1h-1zM541,718h1v1h-1zM542,591h1v1h-1zM542,609h1v1h-1zM542,621h1v1h-1zM542,639h1v1h-1zM542,651h1v1h-1zM542,719h1v1h-1zM543,590h1v1h-1zM543,610h1v1h-1zM543,620h1v1h-1zM543,640h1v1h-1zM543,650h1v1h-1zM543,720h1v1h-1zM553,389h1v2h-1zM554,387h1v2h-1zM555,385h1v2h-1zM555,326h2v1h-2zM555,334h2v1h-2zM555,342h2v1h-2zM557,325h2v1h-2zM557,327h2v1h-2zM557,333h2v1h-2zM557,335h2v1h-2zM557,341h2v1h-2zM557,343h2v1h-2zM559,389h1v2h-1zM559,324h2v1h-2zM559,328h2v1h-2zM559,332h2v1h-2zM559,336h2v1h-2zM559,340h2v1h-2zM559,344h2v1h-2zM560,348h1v1h-1zM560,387h1v2h-1zM561,385h1v2h-1zM561,329h2v1h-2zM561,331h2v1h-2zM561,337h2v1h-2zM561,339h2v1h-2zM561,345h2v1h-2zM561,347h2v1h-2zM563,330h2v1h-2zM563,338h2v1h-2zM563,346h2v1h-2zM565,389h1v2h-1zM566,387h1v2h-1zM567,385h1v2h-1zM575,196h2v1h-2zM575,204h2v1h-2zM575,212h2v1h-2zM577,195h2v1h-2zM577,197h2v1h-2zM577,203h2v1h-2zM577,205h2v1h-2zM577,211h2v1h-2zM577,213h2v1h-2zM579,194h2v1h-2zM579,198h2v1h-2zM579,202h2v1h-2zM579,206h2v1h-2zM579,210h2v1h-2zM579,214h2v1h-2zM580,218h1v1h-1zM581,199h2v1h-2zM581,201h2v1h-2zM581,207h2v1h-2zM581,209h2v1h-2zM581,215h2v1h-2zM581,217h2v1h-2zM583,699h1v2h-1zM583,200h2v1h-2zM583,208h2v1h-2zM583,216h2v1h-2zM584,697h1v2h-1zM585,695h1v2h-1zM589,699h1v2h-1zM590,697h1v2h-1zM591,695h1v2h-1zM593,389h1v2h-1zM594,387h1v2h-1zM595,385h1v2h-1zM595,699h1v2h-1zM596,697h1v2h-1zM597,695h1v2h-1zM599,389h1v2h-1zM600,387h1v2h-1zM601,385h1v2h-1zM605,389h1v2h-1zM606,387h1v2h-1zM607,385h1v2h-1zM620,550h1v1h-1zM621,549h1v1h-1zM621,551h1v1h-1zM622,548h1v1h-1zM622,552h1v1h-1zM623,547h1v1h-1zM623,553h1v1h-1zM624,546h1v1h-1zM624,554h1v1h-1zM625,545h1v1h-1zM625,555h1v1h-1zM626,544h1v1h-1zM626,556h1v1h-1zM627,543h1v1h-1zM627,557h1v1h-1zM628,542h1v1h-1zM628,558h1v1h-1zM629,541h1v1h-1zM629,559h1v1h-1zM630,540h1v1h-1zM630,560h1v1h-1zM631,539h1v1h-1zM631,561h1v1h-1zM632,538h1v1h-1zM632,562h1v1h-1zM633,537h1v1h-1zM633,563h1v1h-1zM634,536h1v1h-1zM634,564h1v1h-1zM635,535h1v1h-1zM635,565h1v1h-1zM636,534h1v1h-1zM636,566h1v1h-1zM637,533h1v1h-1zM637,567h1v1h-1zM638,532h1v1h-1zM638,568h1v1h-1zM639,531h1v1h-1zM639,569h1v1h-1zM640,530h1v1h-1zM640,570h1v1h-1zM641,531h1v1h-1zM641,569h1v1h-1zM642,532h1v1h-1zM642,568h1v1h-1zM643,533h1v1h-1zM643,567h1v1h-1zM644,534h1v1h-1zM644,566h1v1h-1zM645,535h1v1h-1zM645,565h1v1h-1zM646,536h1v1h-1zM646,564h1v1h-1zM647,537h1v1h-1zM647,563h1v1h-1zM648,538h1v1h-1zM648,562h1v1h-1zM649,539h1v1h-1zM649,561h1v1h-1zM650,540h1v1h-1zM650,560h1v1h-1zM651,541h1v1h-1zM651,559h1v1h-1zM652,542h1v1h-1zM652,558h1v1h-1zM653,543h1v1h-1zM653,557h1v1h-1zM654,544h1v1h-1zM654,556h1v1h-1zM655,545h1v1h-1zM655,555h1v1h-1zM656,546h1v1h-1zM656,554h1v1h-1zM657,547h1v1h-1zM657,553h1v1h-1zM658,548h1v1h-1zM658,552h1v1h-1zM659,549h1v1h-1zM659,551h1v1h-1zM660,400h1v1h-1zM660,550h1v1h-1zM661,399h1v1h-1zM662,398h1v1h-1zM663,397h1v1h-1zM664,396h1v1h-1zM665,395h1v1h-1zM666,394h1v1h-1zM667,393h1v1h-1zM668,392h1v1h-1zM669,391h1v1h-1zM670,390h1v1h-1zM680,690h2v1h-2zM681,689h2v1h-2zM682,691h2v1h-2zM683,688h2v1h-2zM684,692h2v1h-2zM685,687h2v1h-2zM686,693h2v1h-2zM687,686h2v1h-2zM688,694h2v1h-2zM689,685h2v1h-2zM690,695h2v1h-2zM691,684h2v1h-2zM692,696h2v1h-2zM693,683h2v1h-2zM694,697h2v1h-2zM695,682h2v1h-2zM696,698h2v1h-2zM697,681h2v1h-2zM698,699h2v1h-2zM699,680h2v1h-2zM700,700h1v1h-1zM722,440h1v2h-1zM723,442h1v1h-1zM723,443h2v1h-2zM724,444h1v1h-1zM725,441h1v2h-1zM726,439h1v2h-1zM727,437h1v2h-1zM728,435h1v2h-1zM729,437h1v2h-1zM730,439h1v2h-1zM731,441h1v2h-1zM732,443h1v2h-1zM733,441h1v2h-1zM734,439h1v2h-1zM735,437h1v2h-1zM736,435h1v2h-1zM737,437h1v2h-1zM738,439h1v2h-1zM739,441h1v2h-1zM740,443h1v2h-1zM741,441h1v2h-1zM742,439h1v2h-1zM743,437h1v2h-1zM744,435h1v2h-1zM745,437h1v2h-1zM746,439h1v2h-1zM753,389h1v2h-1zM754,387h1v2h-1zM755,385h1v2h-1zM755,296h2v1h-2zM755,304h2v1h-2zM755,312h2v1h-2zM757,295h2v1h-2zM757,297h2v1h-2zM757,303h2v1h-2zM757,305h2v1h-2zM757,311h2v1h-2zM757,313h2v1h-2zM759,389h1v2h-1zM759,294h2v1h-2zM759,298h2v1h-2zM759,302h2v1h-2zM759,306h2v1h-2zM759,310h2v1h-2zM759,314h2v1h-2zM760,318h1v1h-1zM760,387h1v2h-1zM761,385h1v2h-1zM761,299h2v1h-2zM761,301h2v1h-2zM761,307h2v1h-2zM761,309h2v1h-2zM761,315h2v1h-2zM761,317h2v1h-2zM763,300h2v1h-2zM763,308h2v1h-2zM763,316h2v1h-2zM765,389h1v2h-1zM766,387h1v2h-1zM767,385h1v2h-1zM850,191h1v10h-1zM850,190h2v1h-2zM852,189h2v1h-2zM854,188h2v1h-2zM856,187h2v1h-2zM858,186h2v1h-2zM860,220h1v2h-1zM860,185h2v1h-2zM861,222h1v1h-1zM861,223h2v1h-2zM862,224h1v1h-1zM862,184h2v1h-2zM863,221h1v2h-1zM863,389h1v2h-1zM864,219h1v2h-1zM864,387h1v2h-1zM864,183h2v1h-2zM865,217h1v2h-1zM865,385h1v2h-1zM865,296h2v1h-2zM865,304h2v1h-2zM865,312h2v1h-2zM866,215h1v2h-1zM866,182h2v1h-2zM867,217h1v2h-1zM867,295h2v1h-2zM867,297h2v1h-2zM867,303h2v1h-2zM867,305h2v1h-2zM867,311h2v1h-2zM867,313h2v1h-2zM868,219h1v2h-1zM868,181h2v1h-2zM869,221h1v2h-1zM869,389h1v2h-1zM869,294h2v1h-2zM869,298h2v1h-2zM869,302h2v1h-2zM869,306h2v1h-2zM869,310h2v1h-2zM869,314h2v1h-2zM870,223h1v2h-1zM870,318h1v1h-1zM870,387h1v2h-1zM870,180h2v1h-2zM871,221h1v2h-1zM871,385h1v2h-1zM871,299h2v1h-2zM871,301h2v1h-2zM871,307h2v1h-2zM871,309h2v1h-2zM871,315h2v1h-2zM871,317h2v1h-2zM872,219h1v2h-1zM872,181h2v1h-2zM873,217h1v2h-1zM873,300h2v1h-2zM873,308h2v1h-2zM873,316h2v1h-2zM874,215h1v2h-1zM874,182h2v1h-2zM875,217h1v2h-1zM875,389h1v2h-1zM876,219h1v2h-1zM876,387h1v2h-1zM876,183h2v1h-2zM877,221h1v2h-1zM877,385h1v2h-1zM878,223h1v2h-1zM878,184h2v1h-2zM879,221h1v2h-1zM880,219h1v2h-1zM880,185h2v1h-2zM881,217h1v2h-1zM882,215h1v2h-1zM882,186h2v1h-2zM883,217h1v2h-1zM884,219h1v2h-1zM884,187h2v1h-2zM886,188h2v1h-2zM888,189h2v1h-2zM890,190h1v11h-1zM893,389h1v2h-1zM894,387h1v2h-1zM895,385h1v2h-1zM899,389h1v2h-1zM900,387h1v2h-1zM901,385h1v2h-1zM903,719h1v2h-1zM904,717h1v2h-1zM905,389h1v2h-1zM905,715h1v2h-1zM906,387h1v2h-1zM907,385h1v2h-1zM909,719h1v2h-1zM910,717h1v2h-1zM911,715h1v2h-1zM915,719h1v2h-1zM916,717h1v2h-1zM917,715h1v2h-1zM1020,70h1v1h-1zM1021,69h1v1h-1zM1022,68h1v1h-1zM1023,67h1v1h-1zM1024,66h1v1h-1zM1025,65h1v1h-1zM1026,64h1v1h-1zM1027,63h1v1h-1zM1028,62h1v1h-1zM1029,61h1v1h-1zM1030,60h1v1h-1zM1030,200h1v1h-1zM1031,130h1v1h-1zM1031,199h1v1h-1zM1032,131h1v2h-1zM1032,198h1v1h-1zM1033,133h1v1h-1zM1033,197h1v1h-1zM1034,134h1v1h-1zM1034,196h1v1h-1zM1044,145h1v1h-1zM1044,185h1v1h-1zM1045,144h1v1h-1zM1045,186h1v2h-1zM1046,143h1v1h-1zM1046,188h1v1h-1zM1047,142h1v1h-1zM1047,189h2v1h-2zM1048,141h1v1h-1zM1049,140h1v1h-1zM1049,190h1v1h-1zM1053,209h1v2h-1zM1054,207h1v2h-1zM1055,205h1v2h-1zM1059,209h1v2h-1zM1060,207h1v2h-1zM1061,205h1v2h-1zM1065,209h1v2h-1zM1066,207h1v2h-1zM1067,205h1v2h-1zM1083,339h1v2h-1zM1083,719h1v2h-1zM1084,337h1v2h-1zM1084,717h1v2h-1zM1085,335h1v2h-1zM1085,715h1v2h-1zM1089,339h1v2h-1zM1089,719h1v2h-1zM1090,337h1v2h-1zM1090,717h1v2h-1zM1091,335h1v2h-1zM1091,715h1v2h-1zM1095,339h1v2h-1zM1095,719h1v2h-1zM1096,337h1v2h-1zM1096,717h1v2h-1zM1097,335h1v2h-1zM1097,715h1v2h-1zM1110,294h1v3h-1zM1110,304h1v3h-1zM1111,293h1v1h-1zM1111,297h1v1h-1zM1111,303h1v1h-1zM1111,307h1v1h-1zM1112,292h3v1h-3zM1112,298h3v1h-3zM1112,302h3v1h-3zM1112,308h3v1h-3zM1115,293h1v1h-1zM1115,297h1v1h-1zM1115,303h1v1h-1zM1115,307h1v1h-1zM1116,294h1v3h-1zM1116,305h1v2h-1zM1116,304h4v1h-4zM1118,303h3v1h-3zM1121,302h2v1h-2zM1123,301h2v1h-2zM1124,299h1v2h-1zM1125,298h1v1h-1zM1125,302h1v1h-1zM1126,297h3v1h-3zM1126,303h3v1h-3zM1129,298h1v1h-1zM1129,302h1v1h-1zM1130,299h1v3h-1zM1133,719h1v2h-1zM1134,717h1v2h-1zM1135,715h1v2h-1zM1135,266h2v1h-2zM1135,274h2v1h-2zM1135,282h2v1h-2zM1137,265h2v1h-2zM1137,267h2v1h-2zM1137,273h2v1h-2zM1137,275h2v1h-2zM1137,281h2v1h-2zM1137,283h2v1h-2zM1139,719h1v2h-1zM1139,264h2v1h-2zM1139,268h2v1h-2zM1139,272h2v1h-2zM1139,276h2v1h-2zM1139,280h2v1h-2zM1139,284h2v1h-2zM1140,288h1v1h-1zM1140,717h1v2h-1zM1141,715h1v2h-1zM1141,269h2v1h-2zM1141,271h2v1h-2zM1141,277h2v1h-2zM1141,279h2v1h-2zM1141,285h2v1h-2zM1141,287h2v1h-2zM1143,270h2v1h-2zM1143,278h2v1h-2zM1143,286h2v1h-2zM1145,719h1v2h-1zM1146,717h1v2h-1zM1147,715h1v2h-1zM1170,76h1v5h-1zM1170,88h1v5h-1zM1170,100h1v5h-1zM1171,75h1v1h-1zM1171,81h1v1h-1zM1171,87h1v1h-1zM1171,93h1v1h-1zM1171,99h1v1h-1zM1171,105h1v1h-1zM1172,74h1v1h-1zM1172,82h1v1h-1zM1172,86h1v1h-1zM1172,94h1v1h-1zM1172,98h1v1h-1zM1172,106h1v1h-1zM1173,73h5v1h-5zM1173,83h5v1h-5zM1173,85h5v1h-5zM1173,95h5v1h-5zM1173,97h5v1h-5zM1173,107h5v1h-5zM1178,74h1v1h-1zM1178,82h1v1h-1zM1178,86h1v1h-1zM1178,94h1v1h-1zM1178,98h1v1h-1zM1178,106h1v1h-1zM1179,75h1v1h-1zM1179,81h1v1h-1zM1179,87h1v1h-1zM1179,93h1v1h-1zM1179,99h1v1h-1zM1179,105h1v1h-1zM1180,76h1v3h-1zM1180,88h1v5h-1zM1180,100h1v5h-1zM1180,79h4v1h-4zM1180,80h5v1h-5zM1181,83h1v1h-1zM1181,82h2v1h-2zM1181,81h3v1h-3zM1184,82h1v1h-1zM1185,83h1v1h-1zM1185,626h2v1h-2zM1185,634h2v1h-2zM1185,642h2v1h-2zM1186,84h2v1h-2zM1187,625h2v1h-2zM1187,627h2v1h-2zM1187,633h2v1h-2zM1187,635h2v1h-2zM1187,641h2v1h-2zM1187,643h2v1h-2zM1188,85h1v1h-1zM1189,86h1v1h-1zM1189,624h2v1h-2zM1189,628h2v1h-2zM1189,632h2v1h-2zM1189,636h2v1h-2zM1189,640h2v1h-2zM1189,644h2v1h-2zM1190,88h1v5h-1zM1190,648h1v1h-1zM1190,87h2v1h-2zM1191,93h1v1h-1zM1191,629h2v1h-2zM1191,631h2v1h-2zM1191,637h2v1h-2zM1191,639h2v1h-2zM1191,645h2v1h-2zM1191,647h2v1h-2zM1192,86h1v1h-1zM1192,94h1v1h-1zM1193,630h2v1h-2zM1193,638h2v1h-2zM1193,646h2v1h-2zM1193,85h5v1h-5zM1193,95h5v1h-5zM1198,86h1v1h-1zM1198,94h1v1h-1zM1199,87h1v1h-1zM1199,93h1v1h-1zM1200,88h1v5h-1zM1200,610h1v1h-1zM1201,609h1v1h-1zM1202,608h1v1h-1zM1202,660h1v2h-1zM1203,607h1v1h-1zM1203,662h1v1h-1zM1203,663h2v1h-2zM1204,606h1v1h-1zM1204,664h1v1h-1zM1205,605h1v1h-1zM1205,661h1v2h-1zM1206,604h1v1h-1zM1206,659h1v2h-1zM1207,603h1v1h-1zM1207,657h1v2h-1zM1208,602h1v1h-1zM1208,655h1v2h-1zM1209,601h1v1h-1zM1209,657h1v2h-1zM1210,600h1v1h-1zM1210,659h1v2h-1zM1211,661h1v2h-1zM1212,663h1v2h-1zM1213,661h1v2h-1zM1214,659h1v2h-1zM1215,657h1v2h-1zM1216,655h1v2h-1zM1217,657h1v2h-1zM1218,659h1v2h-1zM1219,661h1v2h-1zM1220,663h1v2h-1zM1221,661h1v2h-1zM1222,659h1v2h-1zM1223,657h1v2h-1zM1224,655h1v2h-1zM1225,657h1v2h-1zM1226,659h1v2h-1zM1233,739h1v2h-1zM1234,737h1v2h-1zM1235,735h1v2h-1zM1239,739h1v2h-1zM1240,737h1v2h-1zM1241,735h1v2h-1zM1245,739h1v2h-1zM1246,737h1v2h-1zM1247,735h1v2h-1zM1276,88h1v5h-1zM1276,188h1v5h-1zM1277,87h1v1h-1zM1277,93h1v1h-1zM1277,187h1v1h-1zM1277,193h1v1h-1zM1278,86h5v1h-5zM1278,94h5v1h-5zM1278,186h5v1h-5zM1278,194h5v1h-5zM1283,87h1v1h-1zM1283,93h1v1h-1zM1283,187h1v1h-1zM1283,193h1v1h-1zM1284,88h1v5h-1zM1284,188h1v5h-1z" fill="#000" stroke="none" shape-rendering="crispEdges"/>
</g>
<g class="t">
<text x="20" y="37.3" filter="url(#gs)" font-family="Liberation Serif" font-size="18.6" textLength="300" lengthAdjust="spacingAndGlyphs">300B Single Ended Amplifier Takumi V2</text>
</g>
<g class="v">
<g role="img" aria-label="EF86/EF806"><title>EF86/EF806</title><path d="M295.07,96.33 L291.47,96.33 L291.47,106.42 L295.07,106.42M291.47,101.21 L294.27,101.21M302.07,96.33 L298.47,96.33 L298.47,106.42M298.47,101.21 L301.27,101.21M307.88,101.21 L308.95,100.88 L309.75,99.99 L310.03,98.77 L309.75,97.55 L308.95,96.65 L307.88,96.33 L306.79,96.65 L306,97.55 L305.71,98.77 L306,99.99 L306.79,100.88 L307.88,101.21M307.88,101.21 L306.67,101.56 L305.8,102.51 L305.47,103.82 L305.8,105.12 L306.67,106.08 L307.88,106.42 L309.07,106.08 L309.95,105.12 L310.27,103.82 L309.95,102.51 L309.07,101.56 L307.88,101.21M316.01,97.53 L314.99,96.44 L313.79,96.53 L312.84,97.76 L312.47,99.69 L312.47,103.39 L312.74,104.91 L313.47,106.02 L314.47,106.42 L315.47,106.02 L316.21,104.91 L316.47,103.39 L316.21,101.88 L315.47,100.77 L314.47,100.36 L313.47,100.77 L312.74,101.88 L312.47,103.39M319.47,107.27 L323.47,95.48M330.07,96.33 L326.47,96.33 L326.47,106.42 L330.07,106.42M326.47,101.21 L329.27,101.21M337.07,96.33 L333.47,96.33 L333.47,106.42M333.47,101.21 L336.27,101.21M342.88,101.21 L343.95,100.88 L344.75,99.99 L345.03,98.77 L344.75,97.55 L343.95,96.65 L342.88,96.33 L341.79,96.65 L341,97.55 L340.71,98.77 L341,99.99 L341.79,100.88 L342.88,101.21M342.88,101.21 L341.67,101.56 L340.8,102.51 L340.47,103.82 L340.8,105.12 L341.67,106.08 L342.88,106.42 L344.07,106.08 L344.95,105.12 L345.27,103.82 L344.95,102.51 L344.07,101.56 L342.88,101.21M347.47,99.19 L347.74,97.76 L348.47,96.71 L349.47,96.33 L350.47,96.71 L351.21,97.76 L351.47,99.19 L351.47,103.56 L351.21,104.99 L350.47,106.04 L349.47,106.42 L348.47,106.04 L347.74,104.99 L347.47,103.56 L347.47,99.19M348.27,104.07 L350.67,98.68M358.01,97.53 L356.99,96.44 L355.79,96.53 L354.84,97.76 L354.47,99.69 L354.47,103.39 L354.74,104.91 L355.47,106.02 L356.47,106.42 L357.47,106.02 L358.21,104.91 L358.47,103.39 L358.21,101.88 L357.47,100.77 L356.47,100.36 L355.47,100.77 L354.74,101.88 L354.47,103.39" stroke-width="1.15"/></g>
<g role="img" aria-label="6CG7"><title>6CG7</title><path d="M685.01,97.53 L683.99,96.44 L682.79,96.53 L681.84,97.76 L681.48,99.69 L681.48,103.39 L681.74,104.91 L682.48,106.02 L683.48,106.42 L684.48,106.02 L685.21,104.91 L685.48,103.39 L685.21,101.88 L684.48,100.77 L683.48,100.36 L682.48,100.77 L681.74,101.88 L681.48,103.39M692.35,98.21 L691.71,96.93 L690.68,96.34 L689.6,96.61 L688.78,97.67 L688.48,99.19 L688.48,103.56 L688.78,105.08 L689.6,106.14 L690.68,106.41 L691.71,105.82 L692.35,104.54M699.74,98.21 L699.03,96.93 L697.9,96.34 L696.71,96.61 L695.81,97.67 L695.48,99.19 L695.48,103.56 L695.77,104.99 L696.57,106.04 L697.67,106.42 L698.77,106.04 L699.58,104.99 L699.88,103.56 L699.88,101.71 L697.89,101.71M702.48,96.33 L706.48,96.33 L703.98,106.42" stroke-width="1.15"/></g>
<g role="img" aria-label="300B"><title>300B</title><path d="M881.67,96.33 L885.27,96.33 L882.98,100.53 L883.01,100.58 L884.18,100.76 L885.1,101.79 L885.47,103.35 L885.19,104.95 L884.34,106.09 L883.19,106.41 L882.1,105.82 L881.4,104.49M888.48,99.19 L888.74,97.76 L889.48,96.71 L890.48,96.33 L891.48,96.71 L892.21,97.76 L892.48,99.19 L892.48,103.56 L892.21,104.99 L891.48,106.04 L890.48,106.42 L889.48,106.04 L888.74,104.99 L888.48,103.56 L888.48,99.19M889.27,104.07 L891.67,98.68M895.48,99.19 L895.74,97.76 L896.48,96.71 L897.48,96.33 L898.48,96.71 L899.21,97.76 L899.48,99.19 L899.48,103.56 L899.21,104.99 L898.48,106.04 L897.48,106.42 L896.48,106.04 L895.74,104.99 L895.48,103.56 L895.48,99.19M896.27,104.07 L898.67,98.68M902.48,106.42 L902.48,96.33 L904.88,96.33 L904.88,96.33 L905.57,96.64 L906.09,97.5 L906.27,98.68 L906.09,99.86 L905.57,100.72 L904.88,101.04 L902.48,101.04M904.88,101.04 L904.88,101.04 L905.67,101.4 L906.26,102.39 L906.48,103.73 L906.26,105.08 L905.67,106.06 L904.88,106.42 L902.48,106.42" stroke-width="1.15"/></g>
<g role="img" aria-label="6dB"><title>6dB</title><path d="M1064.91,277.53 L1063.89,276.44 L1062.69,276.53 L1061.74,277.76 L1061.38,279.69 L1061.38,283.39 L1061.64,284.91 L1062.38,286.02 L1063.38,286.43 L1064.38,286.02 L1065.11,284.91 L1065.38,283.39 L1065.11,281.88 L1064.38,280.77 L1063.38,280.37 L1062.38,280.77 L1061.64,281.88 L1061.38,283.39M1072.38,276.32 L1072.38,286.43M1072.25,281.91 L1071.61,280.41 L1070.58,279.71 L1069.5,280.03 L1068.68,281.27 L1068.38,283.06 L1068.68,284.84 L1069.5,286.08 L1070.58,286.41 L1071.61,285.71 L1072.25,284.21M1075.38,286.43 L1075.38,276.32 L1077.77,276.32 L1077.77,276.32 L1078.47,276.64 L1078.99,277.5 L1079.17,278.68 L1078.99,279.86 L1078.47,280.72 L1077.77,281.04 L1075.38,281.04M1077.77,281.04 L1077.77,281.04 L1078.58,281.4 L1079.16,282.38 L1079.38,283.73 L1079.16,285.08 L1078.58,286.06 L1077.77,286.43 L1075.38,286.43" stroke-width="1.15"/></g>
<g role="img" aria-label="Non NFB"><title>Non NFB</title><path d="M1071.48,356.23 L1071.48,346.12 L1075.8,356.23 L1075.8,346.12M1082.48,352.86 L1082.21,351.18 L1081.48,349.94 L1080.48,349.49 L1079.48,349.94 L1078.74,351.18 L1078.48,352.86 L1078.74,354.54 L1079.48,355.77 L1080.48,356.23 L1081.48,355.77 L1082.21,354.54 L1082.48,352.86M1085.48,349.49 L1085.48,356.23M1085.48,352.02 L1085.6,351.26 L1086.24,350.06 L1087.27,349.51 L1088.35,349.76 L1089.17,350.76 L1089.48,352.19 L1089.48,356.23M1099.48,356.23 L1099.48,346.12 L1103.8,356.23 L1103.8,346.12M1110.08,346.12 L1106.48,346.12 L1106.48,356.23M1106.48,351.01 L1109.28,351.01M1113.48,356.23 L1113.48,346.12 L1115.88,346.12 L1115.88,346.12 L1116.58,346.44 L1117.09,347.3 L1117.28,348.48 L1117.09,349.66 L1116.58,350.52 L1115.88,350.84 L1113.48,350.84M1115.88,350.84 L1115.88,350.84 L1116.68,351.2 L1117.26,352.19 L1117.48,353.53 L1117.26,354.88 L1116.68,355.86 L1115.88,356.23 L1113.48,356.23" stroke-width="1.15"/></g>
<g role="img" aria-label="5U4G"><title>5U4G</title><path d="M664.98,647.45 L661.82,647.45 L661.68,651.35 L662.1,651.27 L663.08,650.76 L664.11,651.07 L664.88,652.1 L665.17,653.57 L664.9,655.05 L664.14,656.11 L663.12,656.45 L662.13,655.97 L661.45,654.8M668.25,647.45 L668.25,653.9 L668.25,653.9 L668.51,655.17 L669.23,656.11 L670.2,656.45 L671.18,656.11 L671.89,655.17 L672.16,653.9 L672.16,647.45M678.22,656.45 L678.22,647.45 L675.05,653.45 L679.14,653.45M685.82,649.13 L685.16,647.99 L684.11,647.46 L683,647.71 L682.16,648.65 L681.85,650 L681.85,653.9 L682.12,655.17 L682.87,656.11 L683.9,656.45 L684.92,656.11 L685.67,655.17 L685.94,653.9 L685.94,652.25 L684.1,652.25" stroke-width="1.1"/></g>
<g role="img" aria-label="HO-808 MK2"><title>HO-808 MK2</title><path d="M1031.5,226.3 L1031.5,214.5M1036.5,226.3 L1036.5,214.5M1031.5,220.2 L1036.5,220.2M1039.53,217.84 L1039.86,216.17 L1040.78,214.95 L1042.03,214.5 L1043.28,214.95 L1044.19,216.17 L1044.53,217.84 L1044.53,222.96 L1044.19,224.63 L1043.28,225.85 L1042.03,226.3 L1040.78,225.85 L1039.86,224.63 L1039.53,222.96 L1039.53,217.84M1048.04,220.4 L1051.84,220.4M1058.45,220.2 L1059.73,219.82 L1060.67,218.78 L1061.02,217.35 L1060.67,215.93 L1059.73,214.88 L1058.45,214.5 L1057.16,214.88 L1056.22,215.93 L1055.88,217.35 L1056.22,218.78 L1057.16,219.82 L1058.45,220.2M1058.45,220.2 L1057.02,220.61 L1055.97,221.73 L1055.59,223.25 L1055.97,224.78 L1057.02,225.89 L1058.45,226.3 L1059.87,225.89 L1060.92,224.78 L1061.3,223.25 L1060.92,221.73 L1059.87,220.61 L1058.45,220.2M1063.62,217.84 L1063.94,216.17 L1064.81,214.95 L1066,214.5 L1067.19,214.95 L1068.06,216.17 L1068.38,217.84 L1068.38,222.96 L1068.06,224.63 L1067.19,225.85 L1066,226.3 L1064.81,225.85 L1063.94,224.63 L1063.62,222.96 L1063.62,217.84M1064.57,223.55 L1067.43,217.25M1074.51,220.2 L1075.79,219.82 L1076.73,218.78 L1077.08,217.35 L1076.73,215.93 L1075.79,214.88 L1074.51,214.5 L1073.22,214.88 L1072.28,215.93 L1071.94,217.35 L1072.28,218.78 L1073.22,219.82 L1074.51,220.2M1074.51,220.2 L1073.08,220.61 L1072.03,221.73 L1071.65,223.25 L1072.03,224.78 L1073.08,225.89 L1074.51,226.3 L1075.93,225.89 L1076.98,224.78 L1077.36,223.25 L1076.98,221.73 L1075.93,220.61 L1074.51,220.2M1087.71,226.3 L1087.71,214.5 L1090.38,221.58 L1093.04,214.5 L1093.04,226.3M1095.74,226.3 L1095.74,214.5M1101.07,214.5 L1095.74,221.97M1097.61,219.42 L1101.07,226.3M1103.85,216.83 L1104.57,215.3 L1105.81,214.53 L1107.16,214.79 L1108.18,215.99 L1108.53,217.74 L1108.1,219.45 L1103.77,226.3 L1108.53,226.3" stroke-width="1.4"/></g>
<g role="img" aria-label="220V"><title>220V</title><path d="M411.68,676.83 L412.4,675.3 L413.64,674.53 L414.99,674.79 L416.01,675.99 L416.36,677.74 L415.93,679.45 L411.6,686.3 L416.36,686.3M419.71,676.83 L420.43,675.3 L421.67,674.53 L423.02,674.79 L424.04,675.99 L424.39,677.74 L423.96,679.45 L419.63,686.3 L424.39,686.3M427.66,677.84 L427.98,676.17 L428.85,674.95 L430.04,674.5 L431.23,674.95 L432.1,676.17 L432.42,677.84 L432.42,682.96 L432.1,684.63 L431.23,685.85 L430.04,686.3 L428.85,685.85 L427.98,684.63 L427.66,682.96 L427.66,677.84M428.61,683.55 L431.47,677.25M435.69,674.5 L438.36,686.3 L441.02,674.5" stroke-width="1.4"/></g>
<g role="img" aria-label="PMC-200-SP"><title>PMC-200-SP</title><path d="M501.7,736.3 L501.7,724.5 L504.56,724.5 L504.56,724.5 L505.51,724.92 L506.2,726.07 L506.46,727.65 L506.2,729.22 L505.51,730.37 L504.56,730.79 L501.7,730.79M509.73,736.3 L509.73,724.5 L512.4,731.58 L515.06,724.5 L515.06,736.3M522.38,726.7 L521.61,725.21 L520.39,724.52 L519.1,724.84 L518.12,726.07 L517.76,727.84 L517.76,732.96 L518.12,734.73 L519.1,735.96 L520.39,736.28 L521.61,735.59 L522.38,734.1M526.27,730.4 L530.07,730.4M533.9,726.83 L534.62,725.3 L535.86,724.53 L537.21,724.79 L538.23,725.99 L538.58,727.74 L538.15,729.45 L533.82,736.3 L538.58,736.3M541.85,727.84 L542.17,726.17 L543.04,724.95 L544.23,724.5 L545.42,724.95 L546.29,726.17 L546.61,727.84 L546.61,732.96 L546.29,734.63 L545.42,735.85 L544.23,736.3 L543.04,735.85 L542.17,734.63 L541.85,732.96 L541.85,727.84M542.8,733.55 L545.66,727.25M549.88,727.84 L550.2,726.17 L551.07,724.95 L552.26,724.5 L553.45,724.95 L554.32,726.17 L554.64,727.84 L554.64,732.96 L554.32,734.63 L553.45,735.85 L552.26,736.3 L551.07,735.85 L550.2,734.63 L549.88,732.96 L549.88,727.84M550.83,733.55 L553.69,727.25M558.39,730.4 L562.19,730.4M570.28,725.98 L569.45,724.9 L568.32,724.5 L567.19,724.9 L566.36,725.98 L566.06,727.45 L566.36,728.92 L567.19,730 L568.32,730.4 L568.32,730.4 L569.51,730.8 L570.38,731.88 L570.7,733.35 L570.38,734.83 L569.51,735.9 L568.32,736.3 L567.13,735.9 L566.26,734.83M573.97,736.3 L573.97,724.5 L576.83,724.5 L576.83,724.5 L577.78,724.92 L578.47,726.07 L578.73,727.65 L578.47,729.22 L577.78,730.37 L576.83,730.79 L573.97,730.79" stroke-width="1.4"/></g>
<g role="img" aria-label="84K"><title>84K</title><path d="M391.77,54.92 L392.34,54.75 L392.76,54.31 L392.92,53.71 L392.76,53.1 L392.34,52.66 L391.77,52.5 L391.2,52.66 L390.78,53.1 L390.63,53.71 L390.78,54.31 L391.2,54.75 L391.77,54.92M391.77,54.92 L391.14,55.09 L390.67,55.56 L390.5,56.21 L390.67,56.85 L391.14,57.33 L391.77,57.5 L392.41,57.33 L392.87,56.85 L393.04,56.21 L392.87,55.56 L392.41,55.09 L391.77,54.92M396.3,57.5 L396.3,52.5 L394.49,55.83 L396.82,55.83M398.48,57.5 L398.48,52.5M400.85,52.5 L398.48,55.67M399.31,54.58 L400.85,57.5" stroke-width="0.8"/></g>
<g role="img" aria-label="56K"><title>56K</title><path d="M452.51,52.5 L450.71,52.5 L450.63,54.67 L450.87,54.62 L451.43,54.34 L452.02,54.51 L452.45,55.09 L452.62,55.9 L452.47,56.72 L452.04,57.31 L451.45,57.5 L450.89,57.23 L450.5,56.59M456.36,53.1 L455.82,52.56 L455.19,52.6 L454.68,53.21 L454.49,54.17 L454.49,56 L454.63,56.75 L455.02,57.3 L455.55,57.5 L456.08,57.3 L456.47,56.75 L456.61,56 L456.47,55.25 L456.08,54.7 L455.55,54.5 L455.02,54.7 L454.63,55.25 L454.49,56M458.48,57.5 L458.48,52.5M460.85,52.5 L458.48,55.67M459.31,54.58 L460.85,57.5" stroke-width="0.8"/></g>
<g role="img" aria-label="110V"><title>110V</title><path d="M390.71,113.33 L391.93,112.5 L391.93,117.5M394.7,113.33 L395.92,112.5 L395.92,117.5M398.48,113.92 L398.62,113.21 L399.01,112.69 L399.54,112.5 L400.07,112.69 L400.46,113.21 L400.6,113.92 L400.6,116.08 L400.46,116.79 L400.07,117.31 L399.54,117.5 L399.01,117.31 L398.62,116.79 L398.48,116.08 L398.48,113.92M398.9,116.33 L400.18,113.67M402.47,112.5 L403.66,117.5 L404.84,112.5" stroke-width="0.8"/></g>
<g role="img" aria-label="0.1uF630V"><title>0.1uF630V</title><path d="M410.5,143.92 L410.64,143.21 L411.03,142.69 L411.56,142.5 L412.09,142.69 L412.48,143.21 L412.62,143.92 L412.62,146.08 L412.48,146.79 L412.09,147.31 L411.56,147.5 L411.03,147.31 L410.64,146.79 L410.5,146.08 L410.5,143.92M410.92,146.33 L412.2,143.67M415.44,147.5 L415.71,147.5 L415.71,147.08 L415.44,147.08 L415.44,147.5M418.69,143.33 L419.91,142.5 L419.91,147.5M422.47,144.17 L422.47,146.17 L422.47,146.17 L422.61,146.83 L423,147.32 L423.53,147.5 L424.06,147.32 L424.45,146.83 L424.59,146.5M424.59,144.17 L424.59,147.5M428.37,142.5 L426.46,142.5 L426.46,147.5M426.46,144.92 L427.94,144.92M432.32,143.1 L431.78,142.56 L431.15,142.6 L430.64,143.21 L430.45,144.17 L430.45,146 L430.59,146.75 L430.98,147.3 L431.51,147.5 L432.04,147.3 L432.43,146.75 L432.57,146 L432.43,145.25 L432.04,144.7 L431.51,144.5 L430.98,144.7 L430.59,145.25 L430.45,146M434.55,142.5 L436.45,142.5 L435.24,144.58 L435.25,144.61 L435.87,144.69 L436.36,145.21 L436.56,145.98 L436.41,146.77 L435.96,147.34 L435.35,147.49 L434.77,147.2 L434.4,146.54M438.43,143.92 L438.57,143.21 L438.96,142.69 L439.49,142.5 L440.02,142.69 L440.41,143.21 L440.55,143.92 L440.55,146.08 L440.41,146.79 L440.02,147.31 L439.49,147.5 L438.96,147.31 L438.57,146.79 L438.43,146.08 L438.43,143.92M438.85,146.33 L440.13,143.67M442.42,142.5 L443.61,147.5 L444.79,142.5" stroke-width="0.8"/></g>
<g role="img" aria-label="0.47uF Arizona Cap Blue Cacutas"><title>0.47uF Arizona Cap Blue Cacutas</title><path d="M670.5,143.92 L670.64,143.21 L671.03,142.69 L671.56,142.5 L672.09,142.69 L672.48,143.21 L672.62,143.92 L672.62,146.08 L672.48,146.79 L672.09,147.31 L671.56,147.5 L671.03,147.31 L670.64,146.79 L670.5,146.08 L670.5,143.92M670.92,146.33 L672.2,143.67M675.44,147.5 L675.71,147.5 L675.71,147.08 L675.44,147.08 L675.44,147.5M680.29,147.5 L680.29,142.5 L678.48,145.83 L680.81,145.83M682.47,142.5 L684.59,142.5 L683.26,147.5M686.46,144.17 L686.46,146.17 L686.46,146.17 L686.6,146.83 L686.99,147.32 L687.52,147.5 L688.05,147.32 L688.44,146.83 L688.58,146.5M688.58,144.17 L688.58,147.5M692.36,142.5 L690.45,142.5 L690.45,147.5M690.45,144.92 L691.93,144.92M698.43,147.5 L699.62,142.5 L700.8,147.5M698.88,145.83 L700.36,145.83M702.63,144.17 L702.63,147.5M702.63,145.5 L702.65,145.27 L702.91,144.56 L703.42,144.19 L703.99,144.29 L704.41,144.83M707.05,144.17 L707.58,144.17 L707.58,147.5M707.58,143.08 L707.58,142.58M710.4,144.17 L712.52,144.17 L710.4,147.5 L712.52,147.5M716.51,145.83 L716.37,145 L715.98,144.39 L715.45,144.17 L714.92,144.39 L714.53,145 L714.39,145.83 L714.53,146.67 L714.92,147.28 L715.45,147.5 L715.98,147.28 L716.37,146.67 L716.51,145.83M718.38,144.17 L718.38,147.5M718.38,145.42 L718.44,145.04 L718.79,144.45 L719.33,144.17 L719.9,144.3 L720.34,144.79 L720.5,145.5 L720.5,147.5M722.53,144.71 L722.82,144.34 L723.28,144.17 L723.77,144.25 L724.14,144.56 L724.28,145 L724.28,147.5M724.28,145.58 L723.16,145.58 L723.16,145.58 L722.79,145.71 L722.52,146.06 L722.42,146.54 L722.52,147.02 L722.79,147.37 L723.16,147.5 L723.64,147.5 L724.28,146.75M732.41,143.43 L732.06,142.8 L731.52,142.51 L730.95,142.64 L730.51,143.17 L730.35,143.92 L730.35,146.08 L730.51,146.83 L730.95,147.36 L731.52,147.49 L732.06,147.2 L732.41,146.57M734.5,144.71 L734.79,144.34 L735.25,144.17 L735.74,144.25 L736.11,144.56 L736.25,145 L736.25,147.5M736.25,145.58 L735.13,145.58 L735.13,145.58 L734.76,145.71 L734.49,146.06 L734.39,146.54 L734.49,147.02 L734.76,147.37 L735.13,147.5 L735.61,147.5 L736.25,146.75M738.33,144.17 L738.33,149.17M738.39,145.26 L738.74,144.52 L739.28,144.18 L739.85,144.34 L740.29,144.95 L740.45,145.83 L740.29,146.72 L739.85,147.33 L739.28,147.49 L738.74,147.15 L738.39,146.4M746.31,147.5 L746.31,142.5 L747.58,142.5 L747.58,142.5 L747.95,142.66 L748.22,143.08 L748.32,143.67 L748.22,144.25 L747.95,144.68 L747.58,144.83 L746.31,144.83M747.58,144.83 L747.58,144.83 L748.01,145.01 L748.32,145.5 L748.43,146.17 L748.32,146.83 L748.01,147.32 L747.58,147.5 L746.31,147.5M750.94,142.5 L751.36,142.5 L751.36,146.92 L751.68,147.5 L752.05,147.5M754.29,144.17 L754.29,146.17 L754.29,146.17 L754.43,146.83 L754.82,147.32 L755.35,147.5 L755.88,147.32 L756.27,146.83 L756.41,146.5M756.41,144.17 L756.41,147.5M758.31,145.75 L760.37,145.75 L760.4,145.83 L760.24,144.95 L759.8,144.34 L759.23,144.18 L758.69,144.52 L758.34,145.26 L758.3,146.18 L758.58,146.99 L759.08,147.45 L759.67,147.42 L760.15,146.9M768.32,143.43 L767.97,142.8 L767.43,142.51 L766.86,142.64 L766.42,143.17 L766.26,143.92 L766.26,146.08 L766.42,146.83 L766.86,147.36 L767.43,147.49 L767.97,147.2 L768.32,146.57M770.41,144.71 L770.7,144.34 L771.16,144.17 L771.65,144.25 L772.02,144.56 L772.16,145 L772.16,147.5M772.16,145.58 L771.04,145.58 L771.04,145.58 L770.67,145.71 L770.4,146.06 L770.3,146.54 L770.4,147.02 L770.67,147.37 L771.04,147.5 L771.52,147.5 L772.16,146.75M776.11,144.76 L775.64,144.26 L775.08,144.2 L774.57,144.62 L774.28,145.39 L774.28,146.28 L774.57,147.05 L775.08,147.46 L775.64,147.41 L776.11,146.9M778.23,144.17 L778.23,146.17 L778.23,146.17 L778.37,146.83 L778.76,147.32 L779.29,147.5 L779.82,147.32 L780.21,146.83 L780.35,146.5M780.35,144.17 L780.35,147.5M783.01,142.83 L783.01,146.67 L783.01,146.67 L783.09,147.08 L783.31,147.39 L783.6,147.5 L783.89,147.39M782.33,144.17 L783.92,144.17M786.37,144.71 L786.66,144.34 L787.12,144.17 L787.61,144.25 L787.98,144.56 L788.12,145 L788.12,147.5M788.12,145.58 L787,145.58 L787,145.58 L786.63,145.71 L786.36,146.06 L786.26,146.54 L786.36,147.02 L786.63,147.37 L787,147.5 L787.48,147.5 L788.12,146.75M792.09,144.58 L791.74,144.28 L791.26,144.17 L790.78,144.28 L790.43,144.58 L790.31,145 L790.43,145.42 L790.78,145.72 L791.26,145.83 L791.26,145.83 L791.76,145.94 L792.13,146.25 L792.27,146.67 L792.13,147.08 L791.76,147.39 L791.26,147.5 L790.76,147.39 L790.39,147.08" stroke-width="0.8"/></g>
<g role="img" aria-label="100"><title>100</title><path d="M840.71,223.33 L841.93,222.5 L841.93,227.5M844.49,223.92 L844.63,223.21 L845.02,222.69 L845.55,222.5 L846.08,222.69 L846.47,223.21 L846.61,223.92 L846.61,226.08 L846.47,226.79 L846.08,227.31 L845.55,227.5 L845.02,227.31 L844.63,226.79 L844.49,226.08 L844.49,223.92M844.91,226.33 L846.19,223.67M848.48,223.92 L848.62,223.21 L849.01,222.69 L849.54,222.5 L850.07,222.69 L850.46,223.21 L850.6,223.92 L850.6,226.08 L850.46,226.79 L850.07,227.31 L849.54,227.5 L849.01,227.31 L848.62,226.79 L848.48,226.08 L848.48,223.92M848.9,226.33 L850.18,223.67" stroke-width="0.8"/></g>
<g role="img" aria-label="6uF 400V"><title>6uF 400V</title><path d="M942.37,263.1 L941.83,262.56 L941.2,262.6 L940.69,263.21 L940.5,264.17 L940.5,266 L940.64,266.75 L941.03,267.3 L941.56,267.5 L942.09,267.3 L942.48,266.75 L942.62,266 L942.48,265.25 L942.09,264.7 L941.56,264.5 L941.03,264.7 L940.64,265.25 L940.5,266M944.49,264.17 L944.49,266.17 L944.49,266.17 L944.63,266.83 L945.02,267.32 L945.55,267.5 L946.08,267.32 L946.47,266.83 L946.61,266.5M946.61,264.17 L946.61,267.5M950.39,262.5 L948.48,262.5 L948.48,267.5M948.48,264.92 L949.96,264.92M958.27,267.5 L958.27,262.5 L956.46,265.83 L958.79,265.83M960.45,263.92 L960.59,263.21 L960.98,262.69 L961.51,262.5 L962.04,262.69 L962.43,263.21 L962.57,263.92 L962.57,266.08 L962.43,266.79 L962.04,267.31 L961.51,267.5 L960.98,267.31 L960.59,266.79 L960.45,266.08 L960.45,263.92M960.87,266.33 L962.15,263.67M964.44,263.92 L964.58,263.21 L964.97,262.69 L965.5,262.5 L966.03,262.69 L966.42,263.21 L966.56,263.92 L966.56,266.08 L966.42,266.79 L966.03,267.31 L965.5,267.5 L964.97,267.31 L964.58,266.79 L964.44,266.08 L964.44,263.92M964.86,266.33 L966.14,263.67M968.43,262.5 L969.62,267.5 L970.8,262.5" stroke-width="0.8"/></g>
<g role="img" aria-label="250V Radj=must adj"><title>250V Radj=must adj</title><path d="M670.54,393.49 L670.86,392.84 L671.41,392.51 L672.01,392.62 L672.46,393.13 L672.62,393.87 L672.43,394.6 L670.5,397.5 L672.62,397.5M676.5,392.5 L674.7,392.5 L674.62,394.67 L674.86,394.62 L675.42,394.34 L676.01,394.51 L676.44,395.09 L676.61,395.9 L676.46,396.72 L676.03,397.31 L675.44,397.5 L674.88,397.23 L674.49,396.59M678.48,393.92 L678.62,393.21 L679.01,392.69 L679.54,392.5 L680.07,392.69 L680.46,393.21 L680.6,393.92 L680.6,396.08 L680.46,396.79 L680.07,397.31 L679.54,397.5 L679.01,397.31 L678.62,396.79 L678.48,396.08 L678.48,393.92M678.9,396.33 L680.18,393.67M682.47,392.5 L683.66,397.5 L684.84,392.5M690.45,397.5 L690.45,392.5 L691.72,392.5 L691.72,392.5 L692.15,392.68 L692.46,393.17 L692.57,393.83 L692.46,394.5 L692.15,394.99 L691.72,395.17 L690.45,395.17M691.51,395.17 L692.57,397.5M694.6,394.71 L694.89,394.34 L695.35,394.17 L695.84,394.25 L696.21,394.56 L696.35,395 L696.35,397.5M696.35,395.58 L695.24,395.58 L695.24,395.58 L694.86,395.71 L694.59,396.06 L694.49,396.54 L694.59,397.02 L694.86,397.37 L695.24,397.5 L695.71,397.5 L696.35,396.75M700.55,392.5 L700.55,397.5M700.49,395.26 L700.14,394.52 L699.6,394.18 L699.03,394.34 L698.59,394.95 L698.43,395.83 L698.59,396.72 L699.03,397.33 L699.6,397.49 L700.14,397.15 L700.49,396.4M703.16,394.17 L703.8,394.17 L703.8,398.17 L703.8,398.17 L703.71,398.67 L703.45,399.03 L703.11,399.17 L702.76,399.03 L702.51,398.67M703.8,393.08 L703.8,392.58M706.41,394.25 L708.53,394.25M706.41,395.67 L708.53,395.67M710.4,394.17 L710.4,397.5M710.4,394.83 L710.82,394.17 L711.23,394.17 L711.59,394.75 L711.59,397.5M711.59,394.75 L712,394.17 L712.42,394.17 L712.77,394.75 L712.77,397.5M714.39,394.17 L714.39,396.17 L714.39,396.17 L714.53,396.83 L714.92,397.32 L715.45,397.5 L715.98,397.32 L716.37,396.83 L716.51,396.5M716.51,394.17 L716.51,397.5M720.27,394.58 L719.92,394.28 L719.44,394.17 L718.96,394.28 L718.61,394.58 L718.49,395 L718.61,395.42 L718.96,395.72 L719.44,395.83 L719.44,395.83 L719.94,395.94 L720.31,396.25 L720.45,396.67 L720.31,397.08 L719.94,397.39 L719.44,397.5 L718.94,397.39 L718.57,397.08M723.16,392.83 L723.16,396.67 L723.16,396.67 L723.24,397.08 L723.46,397.39 L723.75,397.5 L724.04,397.39M722.48,394.17 L724.07,394.17M730.51,394.71 L730.8,394.34 L731.26,394.17 L731.75,394.25 L732.12,394.56 L732.26,395 L732.26,397.5M732.26,395.58 L731.14,395.58 L731.14,395.58 L730.77,395.71 L730.5,396.06 L730.4,396.54 L730.5,397.02 L730.77,397.37 L731.14,397.5 L731.62,397.5 L732.26,396.75M736.46,392.5 L736.46,397.5M736.4,395.26 L736.05,394.52 L735.51,394.18 L734.94,394.34 L734.5,394.95 L734.34,395.83 L734.5,396.72 L734.94,397.33 L735.51,397.49 L736.05,397.15 L736.4,396.4M739.07,394.17 L739.71,394.17 L739.71,398.17 L739.71,398.17 L739.62,398.67 L739.36,399.03 L739.02,399.17 L738.67,399.03 L738.42,398.67M739.71,393.08 L739.71,392.58" stroke-width="0.8"/></g>
<g role="img" aria-label="8K"><title>8K</title><path d="M751.77,434.92 L752.34,434.75 L752.76,434.31 L752.92,433.71 L752.76,433.1 L752.34,432.66 L751.77,432.5 L751.2,432.66 L750.78,433.1 L750.63,433.71 L750.78,434.31 L751.2,434.75 L751.77,434.92M751.77,434.92 L751.14,435.09 L750.67,435.56 L750.5,436.21 L750.67,436.85 L751.14,437.33 L751.77,437.5 L752.41,437.33 L752.87,436.85 L753.04,436.21 L752.87,435.56 L752.41,435.09 L751.77,434.92M754.49,437.5 L754.49,432.5M756.86,432.5 L754.49,435.67M755.32,434.58 L756.86,437.5" stroke-width="0.8"/></g>
<g role="img" aria-label="Radj"><title>Radj</title><path d="M750.5,447.5 L750.5,442.5 L751.77,442.5 L751.77,442.5 L752.2,442.68 L752.51,443.17 L752.62,443.83 L752.51,444.5 L752.2,444.99 L751.77,445.17 L750.5,445.17M751.56,445.17 L752.62,447.5M754.65,444.71 L754.94,444.34 L755.4,444.17 L755.89,444.25 L756.26,444.56 L756.4,445 L756.4,447.5M756.4,445.58 L755.28,445.58 L755.28,445.58 L754.91,445.71 L754.64,446.06 L754.54,446.54 L754.64,447.02 L754.91,447.37 L755.28,447.5 L755.76,447.5 L756.4,446.75M760.6,442.5 L760.6,447.5M760.54,445.26 L760.19,444.52 L759.65,444.18 L759.08,444.34 L758.64,444.95 L758.48,445.83 L758.64,446.72 L759.08,447.33 L759.65,447.49 L760.19,447.15 L760.54,446.4M763.21,444.17 L763.85,444.17 L763.85,448.17 L763.85,448.17 L763.76,448.67 L763.5,449.03 L763.16,449.17 L762.81,449.03 L762.56,448.67M763.85,443.08 L763.85,442.58" stroke-width="0.8"/></g>
<g role="img" aria-label="450V"><title>450V</title><path d="M1032.31,67.5 L1032.31,62.5 L1030.5,65.83 L1032.83,65.83M1036.5,62.5 L1034.7,62.5 L1034.62,64.67 L1034.86,64.62 L1035.42,64.34 L1036.01,64.51 L1036.44,65.09 L1036.61,65.9 L1036.46,66.72 L1036.03,67.31 L1035.44,67.5 L1034.88,67.23 L1034.49,66.59M1038.48,63.92 L1038.62,63.21 L1039.01,62.69 L1039.54,62.5 L1040.07,62.69 L1040.46,63.21 L1040.6,63.92 L1040.6,66.08 L1040.46,66.79 L1040.07,67.31 L1039.54,67.5 L1039.01,67.31 L1038.62,66.79 L1038.48,66.08 L1038.48,63.92M1038.9,66.33 L1040.18,63.67M1042.47,62.5 L1043.66,67.5 L1044.84,62.5" stroke-width="0.8"/></g>
<g role="img" aria-label="8 OHMS"><title>8 OHMS</title><path d="M1271.77,134.92 L1272.34,134.75 L1272.76,134.31 L1272.92,133.71 L1272.76,133.1 L1272.34,132.66 L1271.77,132.5 L1271.2,132.66 L1270.78,133.1 L1270.63,133.71 L1270.78,134.31 L1271.2,134.75 L1271.77,134.92M1271.77,134.92 L1271.14,135.09 L1270.67,135.56 L1270.5,136.21 L1270.67,136.85 L1271.14,137.33 L1271.77,137.5 L1272.41,137.33 L1272.87,136.85 L1273.04,136.21 L1272.87,135.56 L1272.41,135.09 L1271.77,134.92M1278.48,133.92 L1278.63,133.21 L1279.04,132.69 L1279.59,132.5 L1280.15,132.69 L1280.56,133.21 L1280.71,133.92 L1280.71,136.08 L1280.56,136.79 L1280.15,137.31 L1279.59,137.5 L1279.04,137.31 L1278.63,136.79 L1278.48,136.08 L1278.48,133.92M1282.47,137.5 L1282.47,132.5M1284.7,137.5 L1284.7,132.5M1282.47,134.92 L1284.7,134.92M1286.46,137.5 L1286.46,132.5 L1287.65,135.5 L1288.83,132.5 L1288.83,137.5M1292.38,133.12 L1292.01,132.67 L1291.51,132.5 L1291.01,132.67 L1290.64,133.12 L1290.5,133.75 L1290.64,134.38 L1291.01,134.83 L1291.51,135 L1291.51,135 L1292.04,135.17 L1292.43,135.62 L1292.57,136.25 L1292.43,136.88 L1292.04,137.33 L1291.51,137.5 L1290.98,137.33 L1290.59,136.88" stroke-width="0.8"/></g>
<g role="img" aria-label="By Hat Audio"><title>By Hat Audio</title><path d="M1060.5,237.5 L1060.5,232.5 L1061.77,232.5 L1061.77,232.5 L1062.14,232.66 L1062.41,233.08 L1062.51,233.67 L1062.41,234.25 L1062.14,234.68 L1061.77,234.83 L1060.5,234.83M1061.77,234.83 L1061.77,234.83 L1062.2,235.01 L1062.51,235.5 L1062.62,236.17 L1062.51,236.83 L1062.2,237.32 L1061.77,237.5 L1060.5,237.5M1064.49,234.17 L1065.55,237.5M1066.61,234.17 L1065.18,238.83 L1064.76,239.17M1072.47,237.5 L1072.47,232.5M1074.7,237.5 L1074.7,232.5M1072.47,234.92 L1074.7,234.92M1076.62,234.71 L1076.91,234.34 L1077.37,234.17 L1077.86,234.25 L1078.23,234.56 L1078.37,235 L1078.37,237.5M1078.37,235.58 L1077.26,235.58 L1077.26,235.58 L1076.88,235.71 L1076.61,236.06 L1076.51,236.54 L1076.61,237.02 L1076.88,237.37 L1077.26,237.5 L1077.73,237.5 L1078.37,236.75M1081.24,232.83 L1081.24,236.67 L1081.24,236.67 L1081.32,237.08 L1081.54,237.39 L1081.83,237.5 L1082.12,237.39M1080.56,234.17 L1082.15,234.17M1088.43,237.5 L1089.62,232.5 L1090.8,237.5M1088.88,235.83 L1090.36,235.83M1092.42,234.17 L1092.42,236.17 L1092.42,236.17 L1092.56,236.83 L1092.95,237.32 L1093.48,237.5 L1094.01,237.32 L1094.4,236.83 L1094.54,236.5M1094.54,234.17 L1094.54,237.5M1098.53,232.5 L1098.53,237.5M1098.47,235.26 L1098.12,234.52 L1097.58,234.18 L1097.01,234.34 L1096.57,234.95 L1096.41,235.83 L1096.57,236.72 L1097.01,237.33 L1097.58,237.49 L1098.12,237.15 L1098.47,236.4M1101.04,234.17 L1101.57,234.17 L1101.57,237.5M1101.57,233.08 L1101.57,232.58M1106.51,235.83 L1106.37,235 L1105.98,234.39 L1105.45,234.17 L1104.92,234.39 L1104.53,235 L1104.39,235.83 L1104.53,236.67 L1104.92,237.28 L1105.45,237.5 L1105.98,237.28 L1106.37,236.67 L1106.51,235.83" stroke-width="0.8"/></g>
<g role="img" aria-label="5.6K"><title>5.6K</title><path d="M1152.51,272.5 L1150.71,272.5 L1150.63,274.67 L1150.87,274.62 L1151.43,274.34 L1152.02,274.51 L1152.45,275.09 L1152.62,275.9 L1152.47,276.72 L1152.04,277.31 L1151.45,277.5 L1150.89,277.23 L1150.5,276.59M1155.44,277.5 L1155.71,277.5 L1155.71,277.08 L1155.44,277.08 L1155.44,277.5M1160.35,273.1 L1159.81,272.56 L1159.18,272.6 L1158.67,273.21 L1158.48,274.17 L1158.48,276 L1158.62,276.75 L1159.01,277.3 L1159.54,277.5 L1160.07,277.3 L1160.46,276.75 L1160.6,276 L1160.46,275.25 L1160.07,274.7 L1159.54,274.5 L1159.01,274.7 L1158.62,275.25 L1158.48,276M1162.47,277.5 L1162.47,272.5M1164.84,272.5 L1162.47,275.67M1163.3,274.58 L1164.84,277.5" stroke-width="0.8"/></g>
<g role="img" aria-label="1N4007"><title>1N4007</title><path d="M730.71,523.33 L731.93,522.5 L731.93,527.5M734.49,527.5 L734.49,522.5 L736.78,527.5 L736.78,522.5M740.29,527.5 L740.29,522.5 L738.48,525.83 L740.81,525.83M742.47,523.92 L742.61,523.21 L743,522.69 L743.53,522.5 L744.06,522.69 L744.45,523.21 L744.59,523.92 L744.59,526.08 L744.45,526.79 L744.06,527.31 L743.53,527.5 L743,527.31 L742.61,526.79 L742.47,526.08 L742.47,523.92M742.89,526.33 L744.17,523.67M746.46,523.92 L746.6,523.21 L746.99,522.69 L747.52,522.5 L748.05,522.69 L748.44,523.21 L748.58,523.92 L748.58,526.08 L748.44,526.79 L748.05,527.31 L747.52,527.5 L746.99,527.31 L746.6,526.79 L746.46,526.08 L746.46,523.92M746.88,526.33 L748.16,523.67M750.45,522.5 L752.57,522.5 L751.25,527.5" stroke-width="0.8"/></g>
<g role="img" aria-label="5V 3A"><title>5V 3A</title><path d="M732.51,542.5 L730.71,542.5 L730.63,544.67 L730.87,544.62 L731.43,544.34 L732.02,544.51 L732.45,545.09 L732.62,545.9 L732.47,546.72 L732.04,547.31 L731.45,547.5 L730.89,547.23 L730.5,546.59M734.49,542.5 L735.68,547.5 L736.86,542.5M742.58,542.5 L744.48,542.5 L743.26,544.58 L743.28,544.61 L743.9,544.69 L744.39,545.21 L744.59,545.98 L744.44,546.77 L743.99,547.34 L743.38,547.49 L742.8,547.2 L742.43,546.54M746.46,547.5 L747.65,542.5 L748.83,547.5M746.91,545.83 L748.39,545.83" stroke-width="0.8"/></g>
<g role="img" aria-label="78T05"><title>78T05</title><path d="M730.5,552.5 L732.62,552.5 L731.29,557.5M735.76,554.92 L736.33,554.75 L736.75,554.31 L736.91,553.71 L736.75,553.1 L736.33,552.66 L735.76,552.5 L735.19,552.66 L734.77,553.1 L734.62,553.71 L734.77,554.31 L735.19,554.75 L735.76,554.92M735.76,554.92 L735.13,555.09 L734.66,555.56 L734.49,556.21 L734.66,556.85 L735.13,557.33 L735.76,557.5 L736.4,557.33 L736.86,556.85 L737.03,556.21 L736.86,555.56 L736.4,555.09 L735.76,554.92M738.48,552.5 L740.6,552.5M739.54,552.5 L739.54,557.5M742.47,553.92 L742.61,553.21 L743,552.69 L743.53,552.5 L744.06,552.69 L744.45,553.21 L744.59,553.92 L744.59,556.08 L744.45,556.79 L744.06,557.31 L743.53,557.5 L743,557.31 L742.61,556.79 L742.47,556.08 L742.47,553.92M742.89,556.33 L744.17,553.67M748.47,552.5 L746.67,552.5 L746.59,554.67 L746.83,554.62 L747.39,554.34 L747.98,554.51 L748.41,555.09 L748.58,555.9 L748.43,556.72 L748,557.31 L747.41,557.5 L746.85,557.23 L746.46,556.59" stroke-width="0.8"/></g>
<g role="img" aria-label="0.01"><title>0.01</title><path d="M720.5,613.92 L720.64,613.21 L721.03,612.69 L721.56,612.5 L722.09,612.69 L722.48,613.21 L722.62,613.92 L722.62,616.08 L722.48,616.79 L722.09,617.31 L721.56,617.5 L721.03,617.31 L720.64,616.79 L720.5,616.08 L720.5,613.92M720.92,616.33 L722.2,613.67M725.44,617.5 L725.71,617.5 L725.71,617.08 L725.44,617.08 L725.44,617.5M728.48,613.92 L728.62,613.21 L729.01,612.69 L729.54,612.5 L730.07,612.69 L730.46,613.21 L730.6,613.92 L730.6,616.08 L730.46,616.79 L730.07,617.31 L729.54,617.5 L729.01,617.31 L728.62,616.79 L728.48,616.08 L728.48,613.92M728.9,616.33 L730.18,613.67M732.68,613.33 L733.9,612.5 L733.9,617.5" stroke-width="0.8"/></g>
<g role="img" aria-label="0.01"><title>0.01</title><path d="M760.5,603.92 L760.64,603.21 L761.03,602.69 L761.56,602.5 L762.09,602.69 L762.48,603.21 L762.62,603.92 L762.62,606.08 L762.48,606.79 L762.09,607.31 L761.56,607.5 L761.03,607.31 L760.64,606.79 L760.5,606.08 L760.5,603.92M760.92,606.33 L762.2,603.67M765.44,607.5 L765.71,607.5 L765.71,607.08 L765.44,607.08 L765.44,607.5M768.48,603.92 L768.62,603.21 L769.01,602.69 L769.54,602.5 L770.07,602.69 L770.46,603.21 L770.6,603.92 L770.6,606.08 L770.46,606.79 L770.07,607.31 L769.54,607.5 L769.01,607.31 L768.62,606.79 L768.48,606.08 L768.48,603.92M768.9,606.33 L770.18,603.67M772.68,603.33 L773.9,602.5 L773.9,607.5" stroke-width="0.8"/></g>
<g role="img" aria-label="6.3V 3A"><title>6.3V 3A</title><path d="M492.37,603.1 L491.83,602.56 L491.2,602.6 L490.69,603.21 L490.5,604.17 L490.5,606 L490.64,606.75 L491.03,607.3 L491.56,607.5 L492.09,607.3 L492.48,606.75 L492.62,606 L492.48,605.25 L492.09,604.7 L491.56,604.5 L491.03,604.7 L490.64,605.25 L490.5,606M495.44,607.5 L495.71,607.5 L495.71,607.08 L495.44,607.08 L495.44,607.5M498.59,602.5 L500.49,602.5 L499.27,604.58 L499.29,604.61 L499.91,604.69 L500.4,605.21 L500.6,605.98 L500.45,606.77 L500,607.34 L499.39,607.49 L498.81,607.2 L498.44,606.54M502.47,602.5 L503.66,607.5 L504.84,602.5M510.56,602.5 L512.46,602.5 L511.25,604.58 L511.26,604.61 L511.88,604.69 L512.37,605.21 L512.57,605.98 L512.42,606.77 L511.97,607.34 L511.36,607.49 L510.78,607.2 L510.41,606.54M514.44,607.5 L515.63,602.5 L516.81,607.5M514.89,605.83 L516.37,605.83" stroke-width="0.8"/></g>
<g role="img" aria-label="6.3V1.2A"><title>6.3V1.2A</title><path d="M482.37,623.1 L481.83,622.56 L481.2,622.6 L480.69,623.21 L480.5,624.17 L480.5,626 L480.64,626.75 L481.03,627.3 L481.56,627.5 L482.09,627.3 L482.48,626.75 L482.62,626 L482.48,625.25 L482.09,624.7 L481.56,624.5 L481.03,624.7 L480.64,625.25 L480.5,626M485.44,627.5 L485.71,627.5 L485.71,627.08 L485.44,627.08 L485.44,627.5M488.59,622.5 L490.49,622.5 L489.27,624.58 L489.29,624.61 L489.91,624.69 L490.4,625.21 L490.6,625.98 L490.45,626.77 L490,627.34 L489.39,627.49 L488.81,627.2 L488.44,626.54M492.47,622.5 L493.66,627.5 L494.84,622.5M496.67,623.33 L497.89,622.5 L497.89,627.5M501.4,627.5 L501.67,627.5 L501.67,627.08 L501.4,627.08 L501.4,627.5M504.48,623.49 L504.8,622.84 L505.35,622.51 L505.95,622.62 L506.4,623.13 L506.56,623.87 L506.37,624.6 L504.44,627.5 L506.56,627.5M508.43,627.5 L509.62,622.5 L510.8,627.5M508.88,625.83 L510.36,625.83" stroke-width="0.8"/></g>
<g role="img" aria-label="6.3V 3A"><title>6.3V 3A</title><path d="M562.37,593.1 L561.83,592.56 L561.2,592.6 L560.69,593.21 L560.5,594.17 L560.5,596 L560.64,596.75 L561.03,597.3 L561.56,597.5 L562.09,597.3 L562.48,596.75 L562.62,596 L562.48,595.25 L562.09,594.7 L561.56,594.5 L561.03,594.7 L560.64,595.25 L560.5,596M565.44,597.5 L565.71,597.5 L565.71,597.08 L565.44,597.08 L565.44,597.5M568.59,592.5 L570.49,592.5 L569.27,594.58 L569.29,594.61 L569.91,594.69 L570.4,595.21 L570.6,595.98 L570.45,596.77 L570,597.34 L569.39,597.49 L568.81,597.2 L568.44,596.54M572.47,592.5 L573.66,597.5 L574.84,592.5M580.56,592.5 L582.46,592.5 L581.25,594.58 L581.26,594.61 L581.88,594.69 L582.37,595.21 L582.57,595.98 L582.42,596.77 L581.97,597.34 L581.36,597.49 L580.78,597.2 L580.41,596.54M584.44,597.5 L585.63,592.5 L586.81,597.5M584.89,595.83 L586.37,595.83" stroke-width="0.8"/></g>
<g role="img" aria-label="5V 4A"><title>5V 4A</title><path d="M562.51,622.5 L560.71,622.5 L560.63,624.67 L560.87,624.62 L561.43,624.34 L562.02,624.51 L562.45,625.09 L562.62,625.9 L562.47,626.72 L562.04,627.31 L561.45,627.5 L560.89,627.23 L560.5,626.59M564.49,622.5 L565.68,627.5 L566.86,622.5M574.28,627.5 L574.28,622.5 L572.47,625.83 L574.8,625.83M576.46,627.5 L577.65,622.5 L578.83,627.5M576.91,625.83 L578.39,625.83" stroke-width="0.8"/></g>
<g role="img" aria-label="420V"><title>420V</title><path d="M562.31,657.5 L562.31,652.5 L560.5,655.83 L562.83,655.83M564.53,653.49 L564.85,652.84 L565.4,652.51 L566,652.62 L566.45,653.13 L566.61,653.87 L566.42,654.6 L564.49,657.5 L566.61,657.5M568.48,653.92 L568.62,653.21 L569.01,652.69 L569.54,652.5 L570.07,652.69 L570.46,653.21 L570.6,653.92 L570.6,656.08 L570.46,656.79 L570.07,657.31 L569.54,657.5 L569.01,657.31 L568.62,656.79 L568.48,656.08 L568.48,653.92M568.9,656.33 L570.18,653.67M572.47,652.5 L573.66,657.5 L574.84,652.5" stroke-width="0.8"/></g>
<g role="img" aria-label="420V"><title>420V</title><path d="M562.31,717.5 L562.31,712.5 L560.5,715.83 L562.83,715.83M564.53,713.49 L564.85,712.84 L565.4,712.51 L566,712.62 L566.45,713.13 L566.61,713.87 L566.42,714.6 L564.49,717.5 L566.61,717.5M568.48,713.92 L568.62,713.21 L569.01,712.69 L569.54,712.5 L570.07,712.69 L570.46,713.21 L570.6,713.92 L570.6,716.08 L570.46,716.79 L570.07,717.31 L569.54,717.5 L569.01,717.31 L568.62,716.79 L568.48,716.08 L568.48,713.92M568.9,716.33 L570.18,713.67M572.47,712.5 L573.66,717.5 L574.84,712.5" stroke-width="0.8"/></g>
<g role="img" aria-label="200 mA"><title>200 mA</title><path d="M600.54,673.49 L600.86,672.84 L601.41,672.51 L602.01,672.62 L602.46,673.13 L602.62,673.87 L602.43,674.6 L600.5,677.5 L602.62,677.5M604.49,673.92 L604.63,673.21 L605.02,672.69 L605.55,672.5 L606.08,672.69 L606.47,673.21 L606.61,673.92 L606.61,676.08 L606.47,676.79 L606.08,677.31 L605.55,677.5 L605.02,677.31 L604.63,676.79 L604.49,676.08 L604.49,673.92M604.91,676.33 L606.19,673.67M608.48,673.92 L608.62,673.21 L609.01,672.69 L609.54,672.5 L610.07,672.69 L610.46,673.21 L610.6,673.92 L610.6,676.08 L610.46,676.79 L610.07,677.31 L609.54,677.5 L609.01,677.31 L608.62,676.79 L608.48,676.08 L608.48,673.92M608.9,676.33 L610.18,673.67M616.46,674.17 L616.46,677.5M616.46,674.83 L616.88,674.17 L617.29,674.17 L617.65,674.75 L617.65,677.5M617.65,674.75 L618.06,674.17 L618.48,674.17 L618.83,674.75 L618.83,677.5M620.45,677.5 L621.64,672.5 L622.82,677.5M620.9,675.83 L622.38,675.83" stroke-width="0.8"/></g>
<g role="img" aria-label="2A"><title>2A</title><path d="M420.54,733.49 L420.86,732.84 L421.41,732.51 L422.01,732.62 L422.46,733.13 L422.62,733.87 L422.43,734.6 L420.5,737.5 L422.62,737.5M424.49,737.5 L425.68,732.5 L426.86,737.5M424.94,735.83 L426.42,735.83" stroke-width="0.8"/></g>
<g role="img" aria-label="8H 200mA"><title>8H 200mA</title><path d="M961.77,584.92 L962.34,584.75 L962.76,584.31 L962.92,583.71 L962.76,583.1 L962.34,582.66 L961.77,582.5 L961.2,582.66 L960.78,583.1 L960.63,583.71 L960.78,584.31 L961.2,584.75 L961.77,584.92M961.77,584.92 L961.14,585.09 L960.67,585.56 L960.5,586.21 L960.67,586.85 L961.14,587.33 L961.77,587.5 L962.41,587.33 L962.87,586.85 L963.04,586.21 L962.87,585.56 L962.41,585.09 L961.77,584.92M964.49,587.5 L964.49,582.5M966.72,587.5 L966.72,582.5M964.49,584.92 L966.72,584.92M972.51,583.49 L972.83,582.84 L973.38,582.51 L973.98,582.62 L974.43,583.13 L974.59,583.87 L974.4,584.6 L972.47,587.5 L974.59,587.5M976.46,583.92 L976.6,583.21 L976.99,582.69 L977.52,582.5 L978.05,582.69 L978.44,583.21 L978.58,583.92 L978.58,586.08 L978.44,586.79 L978.05,587.31 L977.52,587.5 L976.99,587.31 L976.6,586.79 L976.46,586.08 L976.46,583.92M976.88,586.33 L978.16,583.67M980.45,583.92 L980.59,583.21 L980.98,582.69 L981.51,582.5 L982.04,582.69 L982.43,583.21 L982.57,583.92 L982.57,586.08 L982.43,586.79 L982.04,587.31 L981.51,587.5 L980.98,587.31 L980.59,586.79 L980.45,586.08 L980.45,583.92M980.87,586.33 L982.15,583.67M984.44,584.17 L984.44,587.5M984.44,584.83 L984.86,584.17 L985.27,584.17 L985.63,584.75 L985.63,587.5M985.63,584.75 L986.04,584.17 L986.46,584.17 L986.81,584.75 L986.81,587.5M988.43,587.5 L989.62,582.5 L990.8,587.5M988.88,585.83 L990.36,585.83" stroke-width="0.8"/></g>
<g role="img" aria-label="245V"><title>245V</title><path d="M1210.54,603.49 L1210.86,602.84 L1211.41,602.51 L1212.01,602.62 L1212.46,603.13 L1212.62,603.87 L1212.43,604.6 L1210.5,607.5 L1212.62,607.5M1216.3,607.5 L1216.3,602.5 L1214.49,605.83 L1216.82,605.83M1220.49,602.5 L1218.69,602.5 L1218.61,604.67 L1218.85,604.62 L1219.41,604.34 L1220,604.51 L1220.43,605.09 L1220.6,605.9 L1220.45,606.72 L1220.02,607.31 L1219.43,607.5 L1218.87,607.23 L1218.48,606.59M1222.47,602.5 L1223.66,607.5 L1224.84,602.5" stroke-width="0.8"/></g>
<g role="img" aria-label="40K"><title>40K</title><path d="M1212.31,677.5 L1212.31,672.5 L1210.5,675.83 L1212.83,675.83M1214.49,673.92 L1214.63,673.21 L1215.02,672.69 L1215.55,672.5 L1216.08,672.69 L1216.47,673.21 L1216.61,673.92 L1216.61,676.08 L1216.47,676.79 L1216.08,677.31 L1215.55,677.5 L1215.02,677.31 L1214.63,676.79 L1214.49,676.08 L1214.49,673.92M1214.91,676.33 L1216.19,673.67M1218.48,677.5 L1218.48,672.5M1220.85,672.5 L1218.48,675.67M1219.31,674.58 L1220.85,677.5" stroke-width="0.8"/></g>
<g role="img" aria-label="16"><title>16</title><path d="M1160.71,73.33 L1161.93,72.5 L1161.93,77.5M1166.36,73.1 L1165.82,72.56 L1165.19,72.6 L1164.68,73.21 L1164.49,74.17 L1164.49,76 L1164.63,76.75 L1165.02,77.3 L1165.55,77.5 L1166.08,77.3 L1166.47,76.75 L1166.61,76 L1166.47,75.25 L1166.08,74.7 L1165.55,74.5 L1165.02,74.7 L1164.63,75.25 L1164.49,76" stroke-width="0.8" stroke="#3a3a3a"/></g>
<g role="img" aria-label="8"><title>8</title><path d="M1161.77,84.92 L1162.34,84.75 L1162.76,84.31 L1162.92,83.71 L1162.76,83.1 L1162.34,82.66 L1161.77,82.5 L1161.2,82.66 L1160.78,83.1 L1160.63,83.71 L1160.78,84.31 L1161.2,84.75 L1161.77,84.92M1161.77,84.92 L1161.14,85.09 L1160.67,85.56 L1160.5,86.21 L1160.67,86.85 L1161.14,87.33 L1161.77,87.5 L1162.41,87.33 L1162.87,86.85 L1163.04,86.21 L1162.87,85.56 L1162.41,85.09 L1161.77,84.92" stroke-width="0.8" stroke="#3a3a3a"/></g>
<g role="img" aria-label="6"><title>6</title><path d="M1162.37,103.1 L1161.83,102.56 L1161.2,102.6 L1160.69,103.21 L1160.5,104.17 L1160.5,106 L1160.64,106.75 L1161.03,107.3 L1161.56,107.5 L1162.09,107.3 L1162.48,106.75 L1162.62,106 L1162.48,105.25 L1162.09,104.7 L1161.56,104.5 L1161.03,104.7 L1160.64,105.25 L1160.5,106" stroke-width="0.8" stroke="#3a3a3a"/></g>
<g role="img" aria-label="100K"><title>100K</title><path d="M243.33,289.29 L242.5,288.07 L247.5,288.07M243.92,285.51 L243.21,285.37 L242.69,284.98 L242.5,284.45 L242.69,283.92 L243.21,283.53 L243.92,283.39 L246.08,283.39 L246.79,283.53 L247.31,283.92 L247.5,284.45 L247.31,284.98 L246.79,285.37 L246.08,285.51 L243.92,285.51M246.33,285.09 L243.67,283.81M243.92,281.52 L243.21,281.38 L242.69,280.99 L242.5,280.46 L242.69,279.93 L243.21,279.54 L243.92,279.4 L246.08,279.4 L246.79,279.54 L247.31,279.93 L247.5,280.46 L247.31,280.99 L246.79,281.38 L246.08,281.52 L243.92,281.52M246.33,281.1 L243.67,279.82M247.5,277.53 L242.5,277.53M242.5,275.16 L245.67,277.53M244.58,276.7 L247.5,275.16" stroke-width="0.8"/></g>
<g role="img" aria-label="100K"><title>100K</title><path d="M303.33,289.29 L302.5,288.07 L307.5,288.07M303.92,285.51 L303.21,285.37 L302.69,284.98 L302.5,284.45 L302.69,283.92 L303.21,283.53 L303.92,283.39 L306.08,283.39 L306.79,283.53 L307.31,283.92 L307.5,284.45 L307.31,284.98 L306.79,285.37 L306.08,285.51 L303.92,285.51M306.33,285.09 L303.67,283.81M303.92,281.52 L303.21,281.38 L302.69,280.99 L302.5,280.46 L302.69,279.93 L303.21,279.54 L303.92,279.4 L306.08,279.4 L306.79,279.54 L307.31,279.93 L307.5,280.46 L307.31,280.99 L306.79,281.38 L306.08,281.52 L303.92,281.52M306.33,281.1 L303.67,279.82M307.5,277.53 L302.5,277.53M302.5,275.16 L305.67,277.53M304.58,276.7 L307.5,275.16" stroke-width="0.8"/></g>
<g role="img" aria-label="1.8K"><title>1.8K</title><path d="M343.33,289.29 L342.5,288.07 L347.5,288.07M347.5,284.56 L347.5,284.29 L347.08,284.29 L347.08,284.56 L347.5,284.56M344.92,280.25 L344.75,279.68 L344.31,279.26 L343.71,279.1 L343.1,279.26 L342.66,279.68 L342.5,280.25 L342.66,280.82 L343.1,281.24 L343.71,281.39 L344.31,281.24 L344.75,280.82 L344.92,280.25M344.92,280.25 L345.09,280.88 L345.56,281.35 L346.21,281.52 L346.85,281.35 L347.33,280.88 L347.5,280.25 L347.33,279.61 L346.85,279.15 L346.21,278.98 L345.56,279.15 L345.09,279.61 L344.92,280.25M347.5,277.53 L342.5,277.53M342.5,275.16 L345.67,277.53M344.58,276.7 L347.5,275.16" stroke-width="0.8"/></g>
<g role="img" aria-label="100"><title>100</title><path d="M373.33,349.29 L372.5,348.07 L377.5,348.07M373.92,345.51 L373.21,345.37 L372.69,344.98 L372.5,344.45 L372.69,343.92 L373.21,343.53 L373.92,343.39 L376.08,343.39 L376.79,343.53 L377.31,343.92 L377.5,344.45 L377.31,344.98 L376.79,345.37 L376.08,345.51 L373.92,345.51M376.33,345.09 L373.67,343.81M373.92,341.52 L373.21,341.38 L372.69,340.99 L372.5,340.46 L372.69,339.93 L373.21,339.54 L373.92,339.4 L376.08,339.4 L376.79,339.54 L377.31,339.93 L377.5,340.46 L377.31,340.99 L376.79,341.38 L376.08,341.52 L373.92,341.52M376.33,341.1 L373.67,339.82" stroke-width="0.8"/></g>
<g role="img" aria-label="200K"><title>200K</title><path d="M453.49,329.46 L452.84,329.14 L452.51,328.59 L452.62,327.99 L453.13,327.54 L453.87,327.38 L454.6,327.57 L457.5,329.5 L457.5,327.38M453.92,325.51 L453.21,325.37 L452.69,324.98 L452.5,324.45 L452.69,323.92 L453.21,323.53 L453.92,323.39 L456.08,323.39 L456.79,323.53 L457.31,323.92 L457.5,324.45 L457.31,324.98 L456.79,325.37 L456.08,325.51 L453.92,325.51M456.33,325.09 L453.67,323.81M453.92,321.52 L453.21,321.38 L452.69,320.99 L452.5,320.46 L452.69,319.93 L453.21,319.54 L453.92,319.4 L456.08,319.4 L456.79,319.54 L457.31,319.93 L457.5,320.46 L457.31,320.99 L456.79,321.38 L456.08,321.52 L453.92,321.52M456.33,321.1 L453.67,319.82M457.5,317.53 L452.5,317.53M452.5,315.16 L455.67,317.53M454.58,316.7 L457.5,315.16" stroke-width="0.8"/></g>
<g role="img" aria-label="470uF50V"><title>470uF50V</title><path d="M417.5,297.69 L412.5,297.69 L415.83,299.5 L415.83,297.17M412.5,295.51 L412.5,293.39 L417.5,294.71M413.92,291.52 L413.21,291.38 L412.69,290.99 L412.5,290.46 L412.69,289.93 L413.21,289.54 L413.92,289.4 L416.08,289.4 L416.79,289.54 L417.31,289.93 L417.5,290.46 L417.31,290.99 L416.79,291.38 L416.08,291.52 L413.92,291.52M416.33,291.1 L413.67,289.82M414.17,287.53 L416.17,287.53 L416.17,287.53 L416.83,287.39 L417.32,287 L417.5,286.47 L417.32,285.94 L416.83,285.55 L416.5,285.41M414.17,285.41 L417.5,285.41M412.5,281.63 L412.5,283.54 L417.5,283.54M414.92,283.54 L414.92,282.06M412.5,277.54 L412.5,279.34 L414.67,279.42 L414.62,279.18 L414.34,278.62 L414.51,278.03 L415.09,277.6 L415.9,277.43 L416.72,277.58 L417.31,278.01 L417.5,278.6 L417.23,279.16 L416.59,279.55M413.92,275.56 L413.21,275.42 L412.69,275.03 L412.5,274.5 L412.69,273.97 L413.21,273.58 L413.92,273.44 L416.08,273.44 L416.79,273.58 L417.31,273.97 L417.5,274.5 L417.31,275.03 L416.79,275.42 L416.08,275.56 L413.92,275.56M416.33,275.14 L413.67,273.86M412.5,271.57 L417.5,270.38 L412.5,269.2" stroke-width="0.8"/></g>
<g role="img" aria-label="Silmic"><title>Silmic</title><path d="M423.12,297.57 L422.67,297.94 L422.5,298.44 L422.67,298.94 L423.12,299.31 L423.75,299.45 L424.38,299.31 L424.83,298.94 L425,298.44 L425,298.44 L425.17,297.91 L425.62,297.52 L426.25,297.38 L426.88,297.52 L427.33,297.91 L427.5,298.44 L427.33,298.97 L426.88,299.36M424.17,294.87 L424.17,294.34 L427.5,294.34M423.08,294.34 L422.58,294.34M422.5,290.88 L422.5,290.46 L426.92,290.46 L427.5,290.14 L427.5,289.77M424.17,287.53 L427.5,287.53M424.83,287.53 L424.17,287.11 L424.17,286.7 L424.75,286.34 L427.5,286.34M424.75,286.34 L424.17,285.93 L424.17,285.51 L424.75,285.16 L427.5,285.16M424.17,282.9 L424.17,282.37 L427.5,282.37M423.08,282.37 L422.58,282.37M424.76,277.68 L424.26,278.15 L424.2,278.71 L424.62,279.22 L425.39,279.51 L426.28,279.51 L427.05,279.22 L427.46,278.71 L427.41,278.15 L426.9,277.68" stroke-width="0.8"/></g>
<g role="img" aria-label="100uF 350V"><title>100uF 350V</title><path d="M443.33,119.29 L442.5,118.07 L447.5,118.07M443.92,115.51 L443.21,115.37 L442.69,114.98 L442.5,114.45 L442.69,113.92 L443.21,113.53 L443.92,113.39 L446.08,113.39 L446.79,113.53 L447.31,113.92 L447.5,114.45 L447.31,114.98 L446.79,115.37 L446.08,115.51 L443.92,115.51M446.33,115.09 L443.67,113.81M443.92,111.52 L443.21,111.38 L442.69,110.99 L442.5,110.46 L442.69,109.93 L443.21,109.54 L443.92,109.4 L446.08,109.4 L446.79,109.54 L447.31,109.93 L447.5,110.46 L447.31,110.99 L446.79,111.38 L446.08,111.52 L443.92,111.52M446.33,111.1 L443.67,109.82M444.17,107.53 L446.17,107.53 L446.17,107.53 L446.83,107.39 L447.32,107 L447.5,106.47 L447.32,105.94 L446.83,105.55 L446.5,105.41M444.17,105.41 L447.5,105.41M442.5,101.63 L442.5,103.54 L447.5,103.54M444.92,103.54 L444.92,102.06M442.5,95.45 L442.5,93.55 L444.58,94.77 L444.61,94.75 L444.69,94.13 L445.21,93.64 L445.98,93.44 L446.77,93.59 L447.34,94.04 L447.49,94.65 L447.2,95.23 L446.54,95.6M442.5,89.56 L442.5,91.36 L444.67,91.44 L444.62,91.2 L444.34,90.64 L444.51,90.05 L445.09,89.62 L445.9,89.45 L446.72,89.6 L447.31,90.03 L447.5,90.62 L447.23,91.18 L446.59,91.57M443.92,87.58 L443.21,87.44 L442.69,87.05 L442.5,86.52 L442.69,85.99 L443.21,85.6 L443.92,85.46 L446.08,85.46 L446.79,85.6 L447.31,85.99 L447.5,86.52 L447.31,87.05 L446.79,87.44 L446.08,87.58 L443.92,87.58M446.33,87.16 L443.67,85.88M442.5,83.59 L447.5,82.4 L442.5,81.22" stroke-width="0.8"/></g>
<g role="img" aria-label="1000"><title>1000</title><path d="M593.33,219.29 L592.5,218.07 L597.5,218.07M593.92,215.51 L593.21,215.37 L592.69,214.98 L592.5,214.45 L592.69,213.92 L593.21,213.53 L593.92,213.39 L596.08,213.39 L596.79,213.53 L597.31,213.92 L597.5,214.45 L597.31,214.98 L596.79,215.37 L596.08,215.51 L593.92,215.51M596.33,215.09 L593.67,213.81M593.92,211.52 L593.21,211.38 L592.69,210.99 L592.5,210.46 L592.69,209.93 L593.21,209.54 L593.92,209.4 L596.08,209.4 L596.79,209.54 L597.31,209.93 L597.5,210.46 L597.31,210.99 L596.79,211.38 L596.08,211.52 L593.92,211.52M596.33,211.1 L593.67,209.82M593.92,207.53 L593.21,207.39 L592.69,207 L592.5,206.47 L592.69,205.94 L593.21,205.55 L593.92,205.41 L596.08,205.41 L596.79,205.55 L597.31,205.94 L597.5,206.47 L597.31,207 L596.79,207.39 L596.08,207.53 L593.92,207.53M596.33,207.11 L593.67,205.83" stroke-width="0.8"/></g>
<g role="img" aria-label="1000"><title>1000</title><path d="M573.33,339.29 L572.5,338.07 L577.5,338.07M573.92,335.51 L573.21,335.37 L572.69,334.98 L572.5,334.45 L572.69,333.92 L573.21,333.53 L573.92,333.39 L576.08,333.39 L576.79,333.53 L577.31,333.92 L577.5,334.45 L577.31,334.98 L576.79,335.37 L576.08,335.51 L573.92,335.51M576.33,335.09 L573.67,333.81M573.92,331.52 L573.21,331.38 L572.69,330.99 L572.5,330.46 L572.69,329.93 L573.21,329.54 L573.92,329.4 L576.08,329.4 L576.79,329.54 L577.31,329.93 L577.5,330.46 L577.31,330.99 L576.79,331.38 L576.08,331.52 L573.92,331.52M576.33,331.1 L573.67,329.82M573.92,327.53 L573.21,327.39 L572.69,327 L572.5,326.47 L572.69,325.94 L573.21,325.55 L573.92,325.41 L576.08,325.41 L576.79,325.55 L577.31,325.94 L577.5,326.47 L577.31,327 L576.79,327.39 L576.08,327.53 L573.92,327.53M576.33,327.11 L573.67,325.83" stroke-width="0.8"/></g>
<g role="img" aria-label="470uF50V"><title>470uF50V</title><path d="M617.5,347.69 L612.5,347.69 L615.83,349.5 L615.83,347.17M612.5,345.51 L612.5,343.39 L617.5,344.71M613.92,341.52 L613.21,341.38 L612.69,340.99 L612.5,340.46 L612.69,339.93 L613.21,339.54 L613.92,339.4 L616.08,339.4 L616.79,339.54 L617.31,339.93 L617.5,340.46 L617.31,340.99 L616.79,341.38 L616.08,341.52 L613.92,341.52M616.33,341.1 L613.67,339.82M614.17,337.53 L616.17,337.53 L616.17,337.53 L616.83,337.39 L617.32,337 L617.5,336.47 L617.32,335.94 L616.83,335.55 L616.5,335.41M614.17,335.41 L617.5,335.41M612.5,331.63 L612.5,333.54 L617.5,333.54M614.92,333.54 L614.92,332.06M612.5,327.54 L612.5,329.34 L614.67,329.42 L614.62,329.18 L614.34,328.62 L614.51,328.03 L615.09,327.6 L615.9,327.43 L616.72,327.58 L617.31,328.01 L617.5,328.6 L617.23,329.16 L616.59,329.55M613.92,325.56 L613.21,325.42 L612.69,325.03 L612.5,324.5 L612.69,323.97 L613.21,323.58 L613.92,323.44 L616.08,323.44 L616.79,323.58 L617.31,323.97 L617.5,324.5 L617.31,325.03 L616.79,325.42 L616.08,325.56 L613.92,325.56M616.33,325.14 L613.67,323.86M612.5,321.57 L617.5,320.38 L612.5,319.2" stroke-width="0.8"/></g>
<g role="img" aria-label="Muse"><title>Muse</title><path d="M627.5,339.5 L622.5,339.5 L625.5,338.31 L622.5,337.13 L627.5,337.13M624.17,335.51 L626.17,335.51 L626.17,335.51 L626.83,335.37 L627.32,334.98 L627.5,334.45 L627.32,333.92 L626.83,333.53 L626.5,333.39M624.17,333.39 L627.5,333.39M624.58,329.63 L624.28,329.98 L624.17,330.46 L624.28,330.94 L624.58,331.29 L625,331.41 L625.42,331.29 L625.72,330.94 L625.83,330.46 L625.83,330.46 L625.94,329.96 L626.25,329.59 L626.67,329.45 L627.08,329.59 L627.39,329.96 L627.5,330.46 L627.39,330.96 L627.08,331.33M625.75,327.5 L625.75,325.44 L625.83,325.41 L624.95,325.57 L624.34,326.01 L624.18,326.58 L624.52,327.12 L625.26,327.47 L626.18,327.51 L626.99,327.23 L627.45,326.73 L627.42,326.14 L626.9,325.66" stroke-width="0.8"/></g>
<g role="img" aria-label="330K"><title>330K</title><path d="M742.5,319.39 L742.5,317.49 L744.58,318.7 L744.61,318.69 L744.69,318.07 L745.21,317.58 L745.98,317.38 L746.77,317.53 L747.34,317.98 L747.49,318.59 L747.2,319.17 L746.54,319.54M742.5,315.4 L742.5,313.5 L744.58,314.71 L744.61,314.7 L744.69,314.08 L745.21,313.59 L745.98,313.39 L746.77,313.54 L747.34,313.99 L747.49,314.6 L747.2,315.18 L746.54,315.55M743.92,311.52 L743.21,311.38 L742.69,310.99 L742.5,310.46 L742.69,309.93 L743.21,309.54 L743.92,309.4 L746.08,309.4 L746.79,309.54 L747.31,309.93 L747.5,310.46 L747.31,310.99 L746.79,311.38 L746.08,311.52 L743.92,311.52M746.33,311.1 L743.67,309.82M747.5,307.53 L742.5,307.53M742.5,305.16 L745.67,307.53M744.58,306.7 L747.5,305.16" stroke-width="0.8"/></g>
<g role="img" aria-label="880 20W Tama-ohm"><title>880 20W Tama-ohm</title><path d="M854.92,308.23 L854.75,307.66 L854.31,307.24 L853.71,307.08 L853.1,307.24 L852.66,307.66 L852.5,308.23 L852.66,308.8 L853.1,309.22 L853.71,309.37 L854.31,309.22 L854.75,308.8 L854.92,308.23M854.92,308.23 L855.09,308.86 L855.56,309.33 L856.21,309.5 L856.85,309.33 L857.33,308.86 L857.5,308.23 L857.33,307.59 L856.85,307.13 L856.21,306.96 L855.56,307.13 L855.09,307.59 L854.92,308.23M854.92,304.24 L854.75,303.67 L854.31,303.25 L853.71,303.09 L853.1,303.25 L852.66,303.67 L852.5,304.24 L852.66,304.81 L853.1,305.23 L853.71,305.38 L854.31,305.23 L854.75,304.81 L854.92,304.24M854.92,304.24 L855.09,304.87 L855.56,305.34 L856.21,305.51 L856.85,305.34 L857.33,304.87 L857.5,304.24 L857.33,303.6 L856.85,303.14 L856.21,302.97 L855.56,303.14 L855.09,303.6 L854.92,304.24M853.92,301.52 L853.21,301.38 L852.69,300.99 L852.5,300.46 L852.69,299.93 L853.21,299.54 L853.92,299.4 L856.08,299.4 L856.79,299.54 L857.31,299.93 L857.5,300.46 L857.31,300.99 L856.79,301.38 L856.08,301.52 L853.92,301.52M856.33,301.1 L853.67,299.82M853.49,293.5 L852.84,293.18 L852.51,292.63 L852.62,292.03 L853.13,291.58 L853.87,291.42 L854.6,291.61 L857.5,293.54 L857.5,291.42M853.92,289.55 L853.21,289.41 L852.69,289.02 L852.5,288.49 L852.69,287.96 L853.21,287.57 L853.92,287.43 L856.08,287.43 L856.79,287.57 L857.31,287.96 L857.5,288.49 L857.31,289.02 L856.79,289.41 L856.08,289.55 L853.92,289.55M856.33,289.13 L853.67,287.85M852.5,285.56 L857.5,285.07 L854.5,284.34 L857.5,283.61 L852.5,283.12M852.5,277.58 L852.5,275.46M852.5,276.52 L857.5,276.52M854.71,273.43 L854.34,273.14 L854.17,272.68 L854.25,272.19 L854.56,271.82 L855,271.68 L857.5,271.68M855.58,271.68 L855.58,272.8 L855.58,272.8 L855.71,273.17 L856.06,273.44 L856.54,273.54 L857.02,273.44 L857.37,273.17 L857.5,272.8 L857.5,272.32 L856.75,271.68M854.17,269.6 L857.5,269.6M854.83,269.6 L854.17,269.18 L854.17,268.77 L854.75,268.41 L857.5,268.41M854.75,268.41 L854.17,268 L854.17,267.58 L854.75,267.23 L857.5,267.23M854.71,265.45 L854.34,265.16 L854.17,264.7 L854.25,264.21 L854.56,263.84 L855,263.7 L857.5,263.7M855.58,263.7 L855.58,264.81 L855.58,264.81 L855.71,265.19 L856.06,265.46 L856.54,265.56 L857.02,265.46 L857.37,265.19 L857.5,264.81 L857.5,264.34 L856.75,263.7M855,261.41 L855,259.71M855.83,255.51 L855,255.65 L854.39,256.04 L854.17,256.57 L854.39,257.1 L855,257.49 L855.83,257.63 L856.67,257.49 L857.28,257.1 L857.5,256.57 L857.28,256.04 L856.67,255.65 L855.83,255.51M852.5,253.64 L857.5,253.64M855.42,253.64 L855.04,253.58 L854.45,253.23 L854.17,252.69 L854.3,252.12 L854.79,251.68 L855.5,251.52 L857.5,251.52M854.17,249.65 L857.5,249.65M854.83,249.65 L854.17,249.23 L854.17,248.82 L854.75,248.46 L857.5,248.46M854.75,248.46 L854.17,248.05 L854.17,247.63 L854.75,247.28 L857.5,247.28" stroke-width="0.8"/></g>
<g role="img" aria-label="470uF 100V"><title>470uF 100V</title><path d="M927.5,327.69 L922.5,327.69 L925.83,329.5 L925.83,327.17M922.5,325.51 L922.5,323.39 L927.5,324.71M923.92,321.52 L923.21,321.38 L922.69,320.99 L922.5,320.46 L922.69,319.93 L923.21,319.54 L923.92,319.4 L926.08,319.4 L926.79,319.54 L927.31,319.93 L927.5,320.46 L927.31,320.99 L926.79,321.38 L926.08,321.52 L923.92,321.52M926.33,321.1 L923.67,319.82M924.17,317.53 L926.17,317.53 L926.17,317.53 L926.83,317.39 L927.32,317 L927.5,316.47 L927.32,315.94 L926.83,315.55 L926.5,315.41M924.17,315.41 L927.5,315.41M922.5,311.63 L922.5,313.54 L927.5,313.54M924.92,313.54 L924.92,312.06M923.33,305.35 L922.5,304.13 L927.5,304.13M923.92,301.57 L923.21,301.43 L922.69,301.04 L922.5,300.51 L922.69,299.98 L923.21,299.59 L923.92,299.45 L926.08,299.45 L926.79,299.59 L927.31,299.98 L927.5,300.51 L927.31,301.04 L926.79,301.43 L926.08,301.57 L923.92,301.57M926.33,301.15 L923.67,299.87M923.92,297.58 L923.21,297.44 L922.69,297.05 L922.5,296.52 L922.69,295.99 L923.21,295.6 L923.92,295.46 L926.08,295.46 L926.79,295.6 L927.31,295.99 L927.5,296.52 L927.31,297.05 L926.79,297.44 L926.08,297.58 L923.92,297.58M926.33,297.16 L923.67,295.88M922.5,293.59 L927.5,292.4 L922.5,291.22" stroke-width="0.8"/></g>
<g role="img" aria-label="10000uf 16V"><title>10000uf 16V</title><path d="M673.33,609.29 L672.5,608.07 L677.5,608.07M673.92,605.51 L673.21,605.37 L672.69,604.98 L672.5,604.45 L672.69,603.92 L673.21,603.53 L673.92,603.39 L676.08,603.39 L676.79,603.53 L677.31,603.92 L677.5,604.45 L677.31,604.98 L676.79,605.37 L676.08,605.51 L673.92,605.51M676.33,605.09 L673.67,603.81M673.92,601.52 L673.21,601.38 L672.69,600.99 L672.5,600.46 L672.69,599.93 L673.21,599.54 L673.92,599.4 L676.08,599.4 L676.79,599.54 L677.31,599.93 L677.5,600.46 L677.31,600.99 L676.79,601.38 L676.08,601.52 L673.92,601.52M676.33,601.1 L673.67,599.82M673.92,597.53 L673.21,597.39 L672.69,597 L672.5,596.47 L672.69,595.94 L673.21,595.55 L673.92,595.41 L676.08,595.41 L676.79,595.55 L677.31,595.94 L677.5,596.47 L677.31,597 L676.79,597.39 L676.08,597.53 L673.92,597.53M676.33,597.11 L673.67,595.83M673.92,593.54 L673.21,593.4 L672.69,593.01 L672.5,592.48 L672.69,591.95 L673.21,591.56 L673.92,591.42 L676.08,591.42 L676.79,591.56 L677.31,591.95 L677.5,592.48 L677.31,593.01 L676.79,593.4 L676.08,593.54 L673.92,593.54M676.33,593.12 L673.67,591.84M674.17,589.55 L676.17,589.55 L676.17,589.55 L676.83,589.41 L677.32,589.02 L677.5,588.49 L677.32,587.96 L676.83,587.57 L676.5,587.43M674.17,587.43 L677.5,587.43M677.5,584.76 L673.33,584.76 L673.33,584.76 L672.89,584.67 L672.58,584.43 L672.51,584.11 L672.69,583.81M674.33,585.4 L674.33,583.97M673.33,577.37 L672.5,576.15 L677.5,576.15M673.1,571.72 L672.56,572.26 L672.6,572.89 L673.21,573.4 L674.17,573.59 L676,573.59 L676.75,573.45 L677.3,573.06 L677.5,572.53 L677.3,572 L676.75,571.61 L676,571.47 L675.25,571.61 L674.7,572 L674.5,572.53 L674.7,573.06 L675.25,573.45 L676,573.59M672.5,569.6 L677.5,568.41 L672.5,567.23" stroke-width="0.8"/></g>
<g role="img" aria-label="8000uF16V"><title>8000uF16V</title><path d="M804.92,608.23 L804.75,607.66 L804.31,607.24 L803.71,607.08 L803.1,607.24 L802.66,607.66 L802.5,608.23 L802.66,608.8 L803.1,609.22 L803.71,609.37 L804.31,609.22 L804.75,608.8 L804.92,608.23M804.92,608.23 L805.09,608.86 L805.56,609.33 L806.21,609.5 L806.85,609.33 L807.33,608.86 L807.5,608.23 L807.33,607.59 L806.85,607.13 L806.21,606.96 L805.56,607.13 L805.09,607.59 L804.92,608.23M803.92,605.51 L803.21,605.37 L802.69,604.98 L802.5,604.45 L802.69,603.92 L803.21,603.53 L803.92,603.39 L806.08,603.39 L806.79,603.53 L807.31,603.92 L807.5,604.45 L807.31,604.98 L806.79,605.37 L806.08,605.51 L803.92,605.51M806.33,605.09 L803.67,603.81M803.92,601.52 L803.21,601.38 L802.69,600.99 L802.5,600.46 L802.69,599.93 L803.21,599.54 L803.92,599.4 L806.08,599.4 L806.79,599.54 L807.31,599.93 L807.5,600.46 L807.31,600.99 L806.79,601.38 L806.08,601.52 L803.92,601.52M806.33,601.1 L803.67,599.82M803.92,597.53 L803.21,597.39 L802.69,597 L802.5,596.47 L802.69,595.94 L803.21,595.55 L803.92,595.41 L806.08,595.41 L806.79,595.55 L807.31,595.94 L807.5,596.47 L807.31,597 L806.79,597.39 L806.08,597.53 L803.92,597.53M806.33,597.11 L803.67,595.83M804.17,593.54 L806.17,593.54 L806.17,593.54 L806.83,593.4 L807.32,593.01 L807.5,592.48 L807.32,591.95 L806.83,591.56 L806.5,591.42M804.17,591.42 L807.5,591.42M802.5,587.64 L802.5,589.55 L807.5,589.55M804.92,589.55 L804.92,588.07M803.33,585.35 L802.5,584.13 L807.5,584.13M803.1,579.7 L802.56,580.24 L802.6,580.87 L803.21,581.38 L804.17,581.57 L806,581.57 L806.75,581.43 L807.3,581.04 L807.5,580.51 L807.3,579.98 L806.75,579.59 L806,579.45 L805.25,579.59 L804.7,579.98 L804.5,580.51 L804.7,581.04 L805.25,581.43 L806,581.57M802.5,577.58 L807.5,576.39 L802.5,575.21" stroke-width="0.8"/></g>
<g role="img" aria-label="47uF 500V"><title>47uF 500V</title><path d="M897.5,677.69 L892.5,677.69 L895.83,679.5 L895.83,677.17M892.5,675.51 L892.5,673.39 L897.5,674.72M894.17,671.52 L896.17,671.52 L896.17,671.52 L896.83,671.38 L897.32,670.99 L897.5,670.46 L897.32,669.93 L896.83,669.54 L896.5,669.4M894.17,669.4 L897.5,669.4M892.5,665.62 L892.5,667.53 L897.5,667.53M894.92,667.53 L894.92,666.05M892.5,657.54 L892.5,659.34 L894.67,659.42 L894.62,659.18 L894.34,658.62 L894.51,658.03 L895.09,657.6 L895.9,657.43 L896.72,657.58 L897.31,658.01 L897.5,658.6 L897.23,659.16 L896.59,659.55M893.92,655.56 L893.21,655.42 L892.69,655.03 L892.5,654.5 L892.69,653.97 L893.21,653.58 L893.92,653.44 L896.08,653.44 L896.79,653.58 L897.31,653.97 L897.5,654.5 L897.31,655.03 L896.79,655.42 L896.08,655.56 L893.92,655.56M896.33,655.14 L893.67,653.86M893.92,651.57 L893.21,651.43 L892.69,651.04 L892.5,650.51 L892.69,649.98 L893.21,649.59 L893.92,649.45 L896.08,649.45 L896.79,649.59 L897.31,649.98 L897.5,650.51 L897.31,651.04 L896.79,651.43 L896.08,651.57 L893.92,651.57M896.33,651.15 L893.67,649.87M892.5,647.58 L897.5,646.39 L892.5,645.21" stroke-width="0.8"/></g>
<g role="img" aria-label="100uF 500V"><title>100uF 500V</title><path d="M1073.33,679.29 L1072.5,678.07 L1077.5,678.07M1073.92,675.51 L1073.21,675.37 L1072.69,674.98 L1072.5,674.45 L1072.69,673.92 L1073.21,673.53 L1073.92,673.39 L1076.08,673.39 L1076.79,673.53 L1077.31,673.92 L1077.5,674.45 L1077.31,674.98 L1076.79,675.37 L1076.08,675.51 L1073.92,675.51M1076.33,675.09 L1073.67,673.81M1073.92,671.52 L1073.21,671.38 L1072.69,670.99 L1072.5,670.46 L1072.69,669.93 L1073.21,669.54 L1073.92,669.4 L1076.08,669.4 L1076.79,669.54 L1077.31,669.93 L1077.5,670.46 L1077.31,670.99 L1076.79,671.38 L1076.08,671.52 L1073.92,671.52M1076.33,671.1 L1073.67,669.82M1074.17,667.53 L1076.17,667.53 L1076.17,667.53 L1076.83,667.39 L1077.32,667 L1077.5,666.47 L1077.32,665.94 L1076.83,665.55 L1076.5,665.41M1074.17,665.41 L1077.5,665.41M1072.5,661.63 L1072.5,663.54 L1077.5,663.54M1074.92,663.54 L1074.92,662.06M1072.5,653.55 L1072.5,655.35 L1074.67,655.43 L1074.62,655.19 L1074.34,654.63 L1074.51,654.04 L1075.09,653.61 L1075.9,653.44 L1076.72,653.59 L1077.31,654.02 L1077.5,654.61 L1077.23,655.17 L1076.59,655.56M1073.92,651.57 L1073.21,651.43 L1072.69,651.04 L1072.5,650.51 L1072.69,649.98 L1073.21,649.59 L1073.92,649.45 L1076.08,649.45 L1076.79,649.59 L1077.31,649.98 L1077.5,650.51 L1077.31,651.04 L1076.79,651.43 L1076.08,651.57 L1073.92,651.57M1076.33,651.15 L1073.67,649.87M1073.92,647.58 L1073.21,647.44 L1072.69,647.05 L1072.5,646.52 L1072.69,645.99 L1073.21,645.6 L1073.92,645.46 L1076.08,645.46 L1076.79,645.6 L1077.31,645.99 L1077.5,646.52 L1077.31,647.05 L1076.79,647.44 L1076.08,647.58 L1073.92,647.58M1076.33,647.16 L1073.67,645.88M1072.5,643.59 L1077.5,642.4 L1072.5,641.22" stroke-width="0.8"/></g>
<g role="img" aria-label="100uF 450V"><title>100uF 450V</title><path d="M1123.33,679.29 L1122.5,678.07 L1127.5,678.07M1123.92,675.51 L1123.21,675.37 L1122.69,674.98 L1122.5,674.45 L1122.69,673.92 L1123.21,673.53 L1123.92,673.39 L1126.08,673.39 L1126.79,673.53 L1127.31,673.92 L1127.5,674.45 L1127.31,674.98 L1126.79,675.37 L1126.08,675.51 L1123.92,675.51M1126.33,675.09 L1123.67,673.81M1123.92,671.52 L1123.21,671.38 L1122.69,670.99 L1122.5,670.46 L1122.69,669.93 L1123.21,669.54 L1123.92,669.4 L1126.08,669.4 L1126.79,669.54 L1127.31,669.93 L1127.5,670.46 L1127.31,670.99 L1126.79,671.38 L1126.08,671.52 L1123.92,671.52M1126.33,671.1 L1123.67,669.82M1124.17,667.53 L1126.17,667.53 L1126.17,667.53 L1126.83,667.39 L1127.32,667 L1127.5,666.47 L1127.32,665.94 L1126.83,665.55 L1126.5,665.41M1124.17,665.41 L1127.5,665.41M1122.5,661.63 L1122.5,663.54 L1127.5,663.54M1124.92,663.54 L1124.92,662.06M1127.5,653.75 L1122.5,653.75 L1125.83,655.56 L1125.83,653.23M1122.5,649.56 L1122.5,651.36 L1124.67,651.44 L1124.62,651.2 L1124.34,650.64 L1124.51,650.05 L1125.09,649.62 L1125.9,649.45 L1126.72,649.6 L1127.31,650.03 L1127.5,650.62 L1127.23,651.18 L1126.59,651.57M1123.92,647.58 L1123.21,647.44 L1122.69,647.05 L1122.5,646.52 L1122.69,645.99 L1123.21,645.6 L1123.92,645.46 L1126.08,645.46 L1126.79,645.6 L1127.31,645.99 L1127.5,646.52 L1127.31,647.05 L1126.79,647.44 L1126.08,647.58 L1123.92,647.58M1126.33,647.16 L1123.67,645.88M1122.5,643.59 L1127.5,642.4 L1122.5,641.22" stroke-width="0.8"/></g>
<g role="img" aria-label="47uF 350V"><title>47uF 350V</title><path d="M1167.5,687.69 L1162.5,687.69 L1165.83,689.5 L1165.83,687.17M1162.5,685.51 L1162.5,683.39 L1167.5,684.72M1164.17,681.52 L1166.17,681.52 L1166.17,681.52 L1166.83,681.38 L1167.32,680.99 L1167.5,680.46 L1167.32,679.93 L1166.83,679.54 L1166.5,679.4M1164.17,679.4 L1167.5,679.4M1162.5,675.62 L1162.5,677.53 L1167.5,677.53M1164.92,677.53 L1164.92,676.05M1162.5,669.44 L1162.5,667.54 L1164.58,668.75 L1164.61,668.74 L1164.69,668.12 L1165.21,667.63 L1165.98,667.43 L1166.77,667.58 L1167.34,668.03 L1167.49,668.64 L1167.2,669.22 L1166.54,669.59M1162.5,663.55 L1162.5,665.35 L1164.67,665.43 L1164.62,665.19 L1164.34,664.63 L1164.51,664.04 L1165.09,663.61 L1165.9,663.44 L1166.72,663.59 L1167.31,664.02 L1167.5,664.61 L1167.23,665.17 L1166.59,665.56M1163.92,661.57 L1163.21,661.43 L1162.69,661.04 L1162.5,660.51 L1162.69,659.98 L1163.21,659.59 L1163.92,659.45 L1166.08,659.45 L1166.79,659.59 L1167.31,659.98 L1167.5,660.51 L1167.31,661.04 L1166.79,661.43 L1166.08,661.57 L1163.92,661.57M1166.33,661.15 L1163.67,659.87M1162.5,657.58 L1167.5,656.39 L1162.5,655.21" stroke-width="0.8"/></g>
<g role="img" aria-label="160K"><title>160K</title><path d="M1203.33,639.29 L1202.5,638.07 L1207.5,638.07M1203.1,633.64 L1202.56,634.18 L1202.6,634.81 L1203.21,635.32 L1204.17,635.51 L1206,635.51 L1206.75,635.37 L1207.3,634.98 L1207.5,634.45 L1207.3,633.92 L1206.75,633.53 L1206,633.39 L1205.25,633.53 L1204.7,633.92 L1204.5,634.45 L1204.7,634.98 L1205.25,635.37 L1206,635.51M1203.92,631.52 L1203.21,631.38 L1202.69,630.99 L1202.5,630.46 L1202.69,629.93 L1203.21,629.54 L1203.92,629.4 L1206.08,629.4 L1206.79,629.54 L1207.31,629.93 L1207.5,630.46 L1207.31,630.99 L1206.79,631.38 L1206.08,631.52 L1203.92,631.52M1206.33,631.1 L1203.67,629.82M1207.5,627.53 L1202.5,627.53M1202.5,625.16 L1205.67,627.53M1204.58,626.7 L1207.5,625.16" stroke-width="0.8"/></g>
<g role="img" aria-label="100K"><title>100K</title><path d="M1233.33,649.29 L1232.5,648.07 L1237.5,648.07M1233.92,645.51 L1233.21,645.37 L1232.69,644.98 L1232.5,644.45 L1232.69,643.92 L1233.21,643.53 L1233.92,643.39 L1236.08,643.39 L1236.79,643.53 L1237.31,643.92 L1237.5,644.45 L1237.31,644.98 L1236.79,645.37 L1236.08,645.51 L1233.92,645.51M1236.33,645.09 L1233.67,643.81M1233.92,641.52 L1233.21,641.38 L1232.69,640.99 L1232.5,640.46 L1232.69,639.93 L1233.21,639.54 L1233.92,639.4 L1236.08,639.4 L1236.79,639.54 L1237.31,639.93 L1237.5,640.46 L1237.31,640.99 L1236.79,641.38 L1236.08,641.52 L1233.92,641.52M1236.33,641.1 L1233.67,639.82M1237.5,637.53 L1232.5,637.53M1232.5,635.16 L1235.67,637.53M1234.58,636.7 L1237.5,635.16" stroke-width="0.8"/></g>
<g role="img" aria-label="Design by Lagarto 3rd July 2013"><title>Design by Lagarto 3rd July 2013</title><path d="M30.5,777.5 L30.5,772.5 L31.5,772.5 L31.5,772.5 L32.11,772.75 L32.56,773.42 L32.73,774.33 L32.73,775.67 L32.56,776.58 L32.11,777.25 L31.5,777.5 L30.5,777.5M34.51,775.75 L36.58,775.75 L36.61,775.83 L36.44,774.95 L36.01,774.34 L35.43,774.18 L34.89,774.52 L34.55,775.26 L34.51,776.18 L34.78,776.99 L35.29,777.45 L35.87,777.42 L36.36,776.9M40.36,774.58 L40.01,774.28 L39.53,774.17 L39.05,774.28 L38.7,774.58 L38.58,775 L38.7,775.42 L39.05,775.72 L39.53,775.83 L39.53,775.83 L40.03,775.94 L40.4,776.25 L40.54,776.67 L40.4,777.08 L40.03,777.39 L39.53,777.5 L39.03,777.39 L38.66,777.08M43.09,774.17 L43.62,774.17 L43.62,777.5M43.62,773.08 L43.62,772.58M48.5,775.26 L48.15,774.52 L47.61,774.18 L47.04,774.34 L46.6,774.95 L46.44,775.83 L46.6,776.72 L47.04,777.33 L47.61,777.49 L48.15,777.15 L48.5,776.4M48.56,774.17 L48.56,778 L48.56,778 L48.42,778.58 L48.03,779.01 L47.5,779.17 L46.97,779.01 L46.58,778.58M50.42,774.17 L50.42,777.5M50.42,775.42 L50.49,775.04 L50.83,774.45 L51.37,774.17 L51.95,774.3 L52.38,774.79 L52.55,775.5 L52.55,777.5M58.39,772.5 L58.39,777.5M58.46,775.26 L58.8,774.52 L59.34,774.18 L59.92,774.34 L60.35,774.95 L60.52,775.83 L60.35,776.72 L59.92,777.33 L59.34,777.49 L58.8,777.15 L58.46,776.4M62.38,774.17 L63.44,777.5M64.5,774.17 L63.07,778.83 L62.64,779.17M70.35,772.5 L70.35,777.5 L72.26,777.5M74.5,774.71 L74.79,774.34 L75.25,774.17 L75.74,774.25 L76.11,774.56 L76.24,775 L76.24,777.5M76.24,775.58 L75.13,775.58 L75.13,775.58 L74.76,775.71 L74.49,776.06 L74.39,776.54 L74.49,777.02 L74.76,777.37 L75.13,777.5 L75.61,777.5 L76.24,776.75M80.38,775.26 L80.03,774.52 L79.49,774.18 L78.92,774.34 L78.48,774.95 L78.32,775.83 L78.48,776.72 L78.92,777.33 L79.49,777.49 L80.03,777.15 L80.38,776.4M80.44,774.17 L80.44,778 L80.44,778 L80.3,778.58 L79.91,779.01 L79.38,779.17 L78.85,779.01 L78.46,778.58M82.47,774.71 L82.76,774.34 L83.22,774.17 L83.71,774.25 L84.08,774.56 L84.21,775 L84.21,777.5M84.21,775.58 L83.1,775.58 L83.1,775.58 L82.73,775.71 L82.46,776.06 L82.36,776.54 L82.46,777.02 L82.73,777.37 L83.1,777.5 L83.58,777.5 L84.21,776.75M86.5,774.17 L86.5,777.5M86.5,775.5 L86.52,775.27 L86.78,774.56 L87.29,774.19 L87.86,774.29 L88.28,774.83M91.07,772.83 L91.07,776.67 L91.07,776.67 L91.15,777.08 L91.36,777.39 L91.65,777.5 L91.94,777.39M90.38,774.17 L91.97,774.17M96.38,775.83 L96.24,775 L95.85,774.39 L95.32,774.17 L94.79,774.39 L94.4,775 L94.26,775.83 L94.4,776.67 L94.79,777.28 L95.32,777.5 L95.85,777.28 L96.24,776.67 L96.38,775.83M102.34,772.5 L104.24,772.5 L103.03,774.58 L103.04,774.61 L103.66,774.69 L104.15,775.21 L104.35,775.98 L104.2,776.77 L103.75,777.34 L103.14,777.49 L102.56,777.2 L102.19,776.54M106.43,774.17 L106.43,777.5M106.43,775.5 L106.44,775.27 L106.71,774.56 L107.22,774.19 L107.78,774.29 L108.21,774.83M112.32,772.5 L112.32,777.5M112.26,775.26 L111.91,774.52 L111.37,774.18 L110.8,774.34 L110.36,774.95 L110.2,775.83 L110.36,776.72 L110.8,777.33 L111.37,777.49 L111.91,777.15 L112.26,776.4M120.08,772.5 L120.08,776.08 L120.08,776.08 L119.95,776.79 L119.6,777.31 L119.12,777.5 L118.65,777.31 L118.3,776.79 L118.17,776.08M122.16,774.17 L122.16,776.17 L122.16,776.17 L122.3,776.83 L122.69,777.32 L123.22,777.5 L123.75,777.32 L124.13,776.83 L124.28,776.5M124.28,774.17 L124.28,777.5M126.78,772.5 L127.2,772.5 L127.2,776.92 L127.52,777.5 L127.89,777.5M130.12,774.17 L131.19,777.5M132.25,774.17 L130.81,778.83 L130.39,779.17M138.13,773.49 L138.45,772.84 L139,772.51 L139.6,772.62 L140.06,773.13 L140.21,773.87 L140.02,774.6 L138.09,777.5 L140.22,777.5M142.08,773.92 L142.22,773.21 L142.61,772.69 L143.14,772.5 L143.67,772.69 L144.06,773.21 L144.2,773.92 L144.2,776.08 L144.06,776.79 L143.67,777.31 L143.14,777.5 L142.61,777.31 L142.22,776.79 L142.08,776.08 L142.08,773.92M142.5,776.33 L143.78,773.67M146.28,773.33 L147.5,772.5 L147.5,777.5M150.16,772.5 L152.06,772.5 L150.84,774.58 L150.86,774.61 L151.48,774.69 L151.97,775.21 L152.17,775.98 L152.02,776.77 L151.57,777.34 L150.96,777.49 L150.38,777.2 L150.01,776.54" stroke-width="0.8"/></g>
<g role="img" aria-label="/update 24th Aug 2013/update 15th June 2014 /update 12nd Jan 2022"><title>/update 24th Aug 2013/update 15th June 2014 /update 12nd Jan 2022</title><path d="M159.9,777.92 L162.02,772.08M163.88,774.17 L163.88,776.17 L163.88,776.17 L164.03,776.83 L164.41,777.32 L164.94,777.5 L165.47,777.32 L165.86,776.83 L166,776.5M166,774.17 L166,777.5M167.87,774.17 L167.87,779.17M167.93,775.26 L168.28,774.52 L168.82,774.18 L169.39,774.34 L169.83,774.95 L169.99,775.83 L169.83,776.72 L169.39,777.33 L168.82,777.49 L168.28,777.15 L167.93,776.4M173.97,772.5 L173.97,777.5M173.91,775.26 L173.57,774.52 L173.03,774.18 L172.45,774.34 L172.02,774.95 L171.86,775.83 L172.02,776.72 L172.45,777.33 L173.03,777.49 L173.57,777.15 L173.91,776.4M176,774.71 L176.29,774.34 L176.75,774.17 L177.24,774.25 L177.61,774.56 L177.75,775 L177.75,777.5M177.75,775.58 L176.63,775.58 L176.63,775.58 L176.26,775.71 L175.99,776.06 L175.89,776.54 L175.99,777.02 L176.26,777.37 L176.63,777.5 L177.11,777.5 L177.75,776.75M180.62,772.83 L180.62,776.67 L180.62,776.67 L180.7,777.08 L180.91,777.39 L181.2,777.5 L181.49,777.39M179.93,774.17 L181.52,774.17M183.84,775.75 L185.9,775.75 L185.93,775.83 L185.77,774.95 L185.33,774.34 L184.76,774.18 L184.22,774.52 L183.87,775.26 L183.83,776.18 L184.11,776.99 L184.61,777.45 L185.2,777.42 L185.68,776.9M191.82,773.49 L192.14,772.84 L192.69,772.51 L193.29,772.62 L193.74,773.13 L193.9,773.87 L193.71,774.6 L191.78,777.5 L193.9,777.5M197.57,777.5 L197.57,772.5 L195.77,775.83 L198.1,775.83M200.55,772.83 L200.55,776.67 L200.55,776.67 L200.62,777.08 L200.84,777.39 L201.13,777.5 L201.42,777.39M199.86,774.17 L201.45,774.17M203.74,772.5 L203.74,777.5M203.74,775.42 L203.8,775.04 L204.14,774.45 L204.68,774.17 L205.26,774.3 L205.69,774.79 L205.86,775.5 L205.86,777.5M211.71,777.5 L212.89,772.5 L214.08,777.5M212.15,775.83 L213.63,775.83M215.69,774.17 L215.69,776.17 L215.69,776.17 L215.83,776.83 L216.22,777.32 L216.75,777.5 L217.28,777.32 L217.67,776.83 L217.81,776.5M217.81,774.17 L217.81,777.5M221.73,775.26 L221.39,774.52 L220.85,774.18 L220.27,774.34 L219.84,774.95 L219.68,775.83 L219.84,776.72 L220.27,777.33 L220.85,777.49 L221.39,777.15 L221.73,776.4M221.8,774.17 L221.8,778 L221.8,778 L221.65,778.58 L221.27,779.01 L220.74,779.17 L220.21,779.01 L219.82,778.58M227.68,773.49 L228,772.84 L228.55,772.51 L229.15,772.62 L229.61,773.13 L229.76,773.87 L229.57,774.6 L227.65,777.5 L229.77,777.5M231.63,773.92 L231.77,773.21 L232.16,772.69 L232.69,772.5 L233.22,772.69 L233.61,773.21 L233.75,773.92 L233.75,776.08 L233.61,776.79 L233.22,777.31 L232.69,777.5 L232.16,777.31 L231.77,776.79 L231.63,776.08 L231.63,773.92M232.05,776.33 L233.33,773.67M235.83,773.33 L237.05,772.5 L237.05,777.5M239.71,772.5 L241.61,772.5 L240.4,774.58 L240.41,774.61 L241.03,774.69 L241.52,775.21 L241.72,775.98 L241.57,776.77 L241.12,777.34 L240.51,777.49 L239.93,777.2 L239.56,776.54M243.59,777.92 L245.71,772.08M247.57,774.17 L247.57,776.17 L247.57,776.17 L247.71,776.83 L248.1,777.32 L248.63,777.5 L249.16,777.32 L249.55,776.83 L249.69,776.5M249.69,774.17 L249.69,777.5M251.56,774.17 L251.56,779.17M251.62,775.26 L251.96,774.52 L252.5,774.18 L253.08,774.34 L253.51,774.95 L253.68,775.83 L253.51,776.72 L253.08,777.33 L252.5,777.49 L251.96,777.15 L251.62,776.4M257.66,772.5 L257.66,777.5M257.6,775.26 L257.25,774.52 L256.71,774.18 L256.14,774.34 L255.7,774.95 L255.54,775.83 L255.7,776.72 L256.14,777.33 L256.71,777.49 L257.25,777.15 L257.6,776.4M259.69,774.71 L259.98,774.34 L260.44,774.17 L260.93,774.25 L261.3,774.56 L261.43,775 L261.43,777.5M261.43,775.58 L260.32,775.58 L260.32,775.58 L259.95,775.71 L259.68,776.06 L259.58,776.54 L259.68,777.02 L259.95,777.37 L260.32,777.5 L260.8,777.5 L261.43,776.75M264.31,772.83 L264.31,776.67 L264.31,776.67 L264.38,777.08 L264.6,777.39 L264.89,777.5 L265.18,777.39M263.62,774.17 L265.21,774.17M267.52,775.75 L269.59,775.75 L269.62,775.83 L269.45,774.95 L269.02,774.34 L268.44,774.18 L267.9,774.52 L267.56,775.26 L267.52,776.18 L267.79,776.99 L268.3,777.45 L268.88,777.42 L269.37,776.9M275.68,773.33 L276.9,772.5 L276.9,777.5M281.46,772.5 L279.66,772.5 L279.58,774.67 L279.82,774.62 L280.38,774.34 L280.97,774.51 L281.4,775.09 L281.57,775.9 L281.42,776.72 L280.99,777.31 L280.4,777.5 L279.84,777.23 L279.45,776.59M284.23,772.83 L284.23,776.67 L284.23,776.67 L284.31,777.08 L284.52,777.39 L284.81,777.5 L285.1,777.39M283.54,774.17 L285.13,774.17M287.42,772.5 L287.42,777.5M287.42,775.42 L287.48,775.04 L287.83,774.45 L288.37,774.17 L288.94,774.3 L289.38,774.79 L289.54,775.5 L289.54,777.5M297.3,772.5 L297.3,776.08 L297.3,776.08 L297.17,776.79 L296.82,777.31 L296.34,777.5 L295.87,777.31 L295.52,776.79 L295.39,776.08M299.38,774.17 L299.38,776.17 L299.38,776.17 L299.52,776.83 L299.9,777.32 L300.44,777.5 L300.97,777.32 L301.35,776.83 L301.5,776.5M301.5,774.17 L301.5,777.5M303.36,774.17 L303.36,777.5M303.36,775.42 L303.42,775.04 L303.77,774.45 L304.31,774.17 L304.88,774.3 L305.32,774.79 L305.48,775.5 L305.48,777.5M307.37,775.75 L309.44,775.75 L309.47,775.83 L309.3,774.95 L308.87,774.34 L308.29,774.18 L307.75,774.52 L307.41,775.26 L307.37,776.18 L307.64,776.99 L308.15,777.45 L308.73,777.42 L309.22,776.9M315.35,773.49 L315.67,772.84 L316.22,772.51 L316.82,772.62 L317.28,773.13 L317.43,773.87 L317.24,774.6 L315.31,777.5 L317.44,777.5M319.3,773.92 L319.44,773.21 L319.83,772.69 L320.36,772.5 L320.89,772.69 L321.28,773.21 L321.42,773.92 L321.42,776.08 L321.28,776.79 L320.89,777.31 L320.36,777.5 L319.83,777.31 L319.44,776.79 L319.3,776.08 L319.3,773.92M319.72,776.33 L321,773.67M323.5,773.33 L324.72,772.5 L324.72,777.5M329.08,777.5 L329.08,772.5 L327.27,775.83 L329.6,775.83M335.24,777.92 L337.36,772.08M339.23,774.17 L339.23,776.17 L339.23,776.17 L339.37,776.83 L339.75,777.32 L340.28,777.5 L340.81,777.32 L341.2,776.83 L341.35,776.5M341.35,774.17 L341.35,777.5M343.21,774.17 L343.21,779.17M343.27,775.26 L343.62,774.52 L344.16,774.18 L344.73,774.34 L345.17,774.95 L345.33,775.83 L345.17,776.72 L344.73,777.33 L344.16,777.49 L343.62,777.15 L343.27,776.4M349.31,772.5 L349.31,777.5M349.25,775.26 L348.91,774.52 L348.37,774.18 L347.79,774.34 L347.36,774.95 L347.19,775.83 L347.36,776.72 L347.79,777.33 L348.37,777.49 L348.91,777.15 L349.25,776.4M351.34,774.71 L351.63,774.34 L352.09,774.17 L352.58,774.25 L352.95,774.56 L353.09,775 L353.09,777.5M353.09,775.58 L351.98,775.58 L351.98,775.58 L351.6,775.71 L351.33,776.06 L351.23,776.54 L351.33,777.02 L351.6,777.37 L351.98,777.5 L352.45,777.5 L353.09,776.75M355.96,772.83 L355.96,776.67 L355.96,776.67 L356.04,777.08 L356.25,777.39 L356.54,777.5 L356.83,777.39M355.27,774.17 L356.86,774.17M359.18,775.75 L361.24,775.75 L361.27,775.83 L361.11,774.95 L360.67,774.34 L360.1,774.18 L359.56,774.52 L359.21,775.26 L359.17,776.18 L359.45,776.99 L359.95,777.45 L360.54,777.42 L361.02,776.9M367.33,773.33 L368.55,772.5 L368.55,777.5M371.14,773.49 L371.46,772.84 L372.01,772.51 L372.61,772.62 L373.07,773.13 L373.22,773.87 L373.03,774.6 L371.11,777.5 L373.23,777.5M375.09,774.17 L375.09,777.5M375.09,775.42 L375.15,775.04 L375.5,774.45 L376.04,774.17 L376.61,774.3 L377.05,774.79 L377.21,775.5 L377.21,777.5M381.19,772.5 L381.19,777.5M381.13,775.26 L380.79,774.52 L380.25,774.18 L379.67,774.34 L379.24,774.95 L379.07,775.83 L379.24,776.72 L379.67,777.33 L380.25,777.49 L380.79,777.15 L381.13,776.4M388.95,772.5 L388.95,776.08 L388.95,776.08 L388.83,776.79 L388.48,777.31 L388,777.5 L387.52,777.31 L387.17,776.79 L387.04,776.08M391.19,774.71 L391.48,774.34 L391.94,774.17 L392.43,774.25 L392.8,774.56 L392.94,775 L392.94,777.5M392.94,775.58 L391.82,775.58 L391.82,775.58 L391.45,775.71 L391.18,776.06 L391.08,776.54 L391.18,777.02 L391.45,777.37 L391.82,777.5 L392.3,777.5 L392.94,776.75M395.01,774.17 L395.01,777.5M395.01,775.42 L395.08,775.04 L395.42,774.45 L395.96,774.17 L396.54,774.3 L396.97,774.79 L397.13,775.5 L397.13,777.5M403.02,773.49 L403.34,772.84 L403.89,772.51 L404.49,772.62 L404.95,773.13 L405.1,773.87 L404.91,774.6 L402.99,777.5 L405.11,777.5M406.97,773.92 L407.11,773.21 L407.5,772.69 L408.03,772.5 L408.56,772.69 L408.95,773.21 L409.09,773.92 L409.09,776.08 L408.95,776.79 L408.56,777.31 L408.03,777.5 L407.5,777.31 L407.11,776.79 L406.97,776.08 L406.97,773.92M407.39,776.33 L408.67,773.67M410.99,773.49 L411.31,772.84 L411.86,772.51 L412.46,772.62 L412.92,773.13 L413.07,773.87 L412.88,774.6 L410.95,777.5 L413.07,777.5M414.98,773.49 L415.3,772.84 L415.85,772.51 L416.45,772.62 L416.9,773.13 L417.06,773.87 L416.87,774.6 L414.94,777.5 L417.06,777.5" stroke-width="0.8"/></g>
<g role="img" aria-label="A"><title>A</title><path d="M100.5,7.5 L101.89,2.5 L103.28,7.5M101.02,5.83 L102.76,5.83" stroke-width="0.8"/></g>
<g role="img" aria-label="A"><title>A</title><path d="M100.5,797.5 L101.89,792.5 L103.28,797.5M101.02,795.83 L102.76,795.83" stroke-width="0.8"/></g>
<g role="img" aria-label="B"><title>B</title><path d="M300.5,7.5 L300.5,2.5 L301.99,2.5 L301.99,2.5 L302.42,2.66 L302.74,3.08 L302.86,3.67 L302.74,4.25 L302.42,4.68 L301.99,4.83 L300.5,4.83M301.99,4.83 L301.99,4.83 L302.48,5.01 L302.85,5.5 L302.98,6.17 L302.85,6.83 L302.48,7.32 L301.99,7.5 L300.5,7.5" stroke-width="0.8"/></g>
<g role="img" aria-label="B"><title>B</title><path d="M300.5,797.5 L300.5,792.5 L301.99,792.5 L301.99,792.5 L302.42,792.66 L302.74,793.08 L302.86,793.67 L302.74,794.25 L302.42,794.68 L301.99,794.83 L300.5,794.83M301.99,794.83 L301.99,794.83 L302.48,795.01 L302.85,795.5 L302.98,796.17 L302.85,796.83 L302.48,797.32 L301.99,797.5 L300.5,797.5" stroke-width="0.8"/></g>
<g role="img" aria-label="C"><title>C</title><path d="M502.91,3.43 L502.5,2.8 L501.87,2.51 L501.2,2.64 L500.69,3.17 L500.5,3.92 L500.5,6.08 L500.69,6.83 L501.2,7.36 L501.87,7.49 L502.5,7.2 L502.91,6.57" stroke-width="0.8"/></g>
<g role="img" aria-label="C"><title>C</title><path d="M502.91,793.43 L502.5,792.8 L501.87,792.51 L501.2,792.64 L500.69,793.17 L500.5,793.92 L500.5,796.08 L500.69,796.83 L501.2,797.36 L501.87,797.49 L502.5,797.2 L502.91,796.57" stroke-width="0.8"/></g>
<g role="img" aria-label="D"><title>D</title><path d="M700.5,7.5 L700.5,2.5 L701.67,2.5 L701.67,2.5 L702.39,2.75 L702.91,3.42 L703.1,4.33 L703.1,5.67 L702.91,6.58 L702.39,7.25 L701.67,7.5 L700.5,7.5" stroke-width="0.8"/></g>
<g role="img" aria-label="D"><title>D</title><path d="M700.5,797.5 L700.5,792.5 L701.67,792.5 L701.67,792.5 L702.39,792.75 L702.91,793.42 L703.1,794.33 L703.1,795.67 L702.91,796.58 L702.39,797.25 L701.67,797.5 L700.5,797.5" stroke-width="0.8"/></g>
<g role="img" aria-label="E"><title>E</title><path d="M902.73,2.5 L900.5,2.5 L900.5,7.5 L902.73,7.5M900.5,4.92 L902.24,4.92" stroke-width="0.8"/></g>
<g role="img" aria-label="E"><title>E</title><path d="M902.73,792.5 L900.5,792.5 L900.5,797.5 L902.73,797.5M900.5,794.92 L902.24,794.92" stroke-width="0.8"/></g>
<g role="img" aria-label="F"><title>F</title><path d="M1102.73,2.5 L1100.5,2.5 L1100.5,7.5M1100.5,4.92 L1102.24,4.92" stroke-width="0.8"/></g>
<g role="img" aria-label="F"><title>F</title><path d="M1102.73,792.5 L1100.5,792.5 L1100.5,797.5M1100.5,794.92 L1102.24,794.92" stroke-width="0.8"/></g>
<g role="img" aria-label="G"><title>G</title><path d="M1303.15,3.43 L1302.7,2.8 L1302.01,2.51 L1301.27,2.64 L1300.71,3.17 L1300.5,3.92 L1300.5,6.08 L1300.68,6.79 L1301.18,7.31 L1301.86,7.5 L1302.55,7.31 L1303.05,6.79 L1303.23,6.08 L1303.23,5.17 L1302,5.17" stroke-width="0.8"/></g>
<g role="img" aria-label="G"><title>G</title><path d="M1303.15,793.43 L1302.7,792.8 L1302.01,792.51 L1301.27,792.64 L1300.71,793.17 L1300.5,793.92 L1300.5,796.08 L1300.68,796.79 L1301.18,797.31 L1301.86,797.5 L1302.55,797.31 L1303.05,796.79 L1303.23,796.08 L1303.23,795.17 L1302,795.17" stroke-width="0.8"/></g>
<g role="img" aria-label="1"><title>1</title><path d="M1.75,95.33 L3.17,94.5 L3.17,99.5" stroke-width="0.8"/></g>
<g role="img" aria-label="1"><title>1</title><path d="M1391.75,95.33 L1393.17,94.5 L1393.17,99.5" stroke-width="0.8"/></g>
<g role="img" aria-label="2"><title>2</title><path d="M1.54,295.49 L1.92,294.84 L2.56,294.51 L3.26,294.62 L3.8,295.13 L3.98,295.87 L3.76,296.6 L1.5,299.5 L3.98,299.5" stroke-width="0.8"/></g>
<g role="img" aria-label="2"><title>2</title><path d="M1391.54,295.49 L1391.92,294.84 L1392.56,294.51 L1393.26,294.62 L1393.8,295.13 L1393.98,295.87 L1393.76,296.6 L1391.5,299.5 L1393.98,299.5" stroke-width="0.8"/></g>
<g role="img" aria-label="3"><title>3</title><path d="M1.62,494.5 L3.86,494.5 L2.43,496.58 L2.45,496.61 L3.18,496.69 L3.74,497.21 L3.98,497.98 L3.81,498.77 L3.28,499.34 L2.56,499.49 L1.89,499.2 L1.45,498.54" stroke-width="0.8"/></g>
<g role="img" aria-label="3"><title>3</title><path d="M1391.62,494.5 L1393.86,494.5 L1392.43,496.58 L1392.45,496.61 L1393.18,496.69 L1393.74,497.21 L1393.98,497.98 L1393.81,498.77 L1393.28,499.34 L1392.56,499.49 L1391.89,499.2 L1391.45,498.54" stroke-width="0.8"/></g>
<g role="img" aria-label="4"><title>4</title><path d="M3.61,699.5 L3.61,694.5 L1.5,697.83 L4.23,697.83" stroke-width="0.8"/></g>
<g role="img" aria-label="4"><title>4</title><path d="M1393.61,699.5 L1393.61,694.5 L1391.5,697.83 L1394.23,697.83" stroke-width="0.8"/></g>
</g>
</svg>
</body></html>
